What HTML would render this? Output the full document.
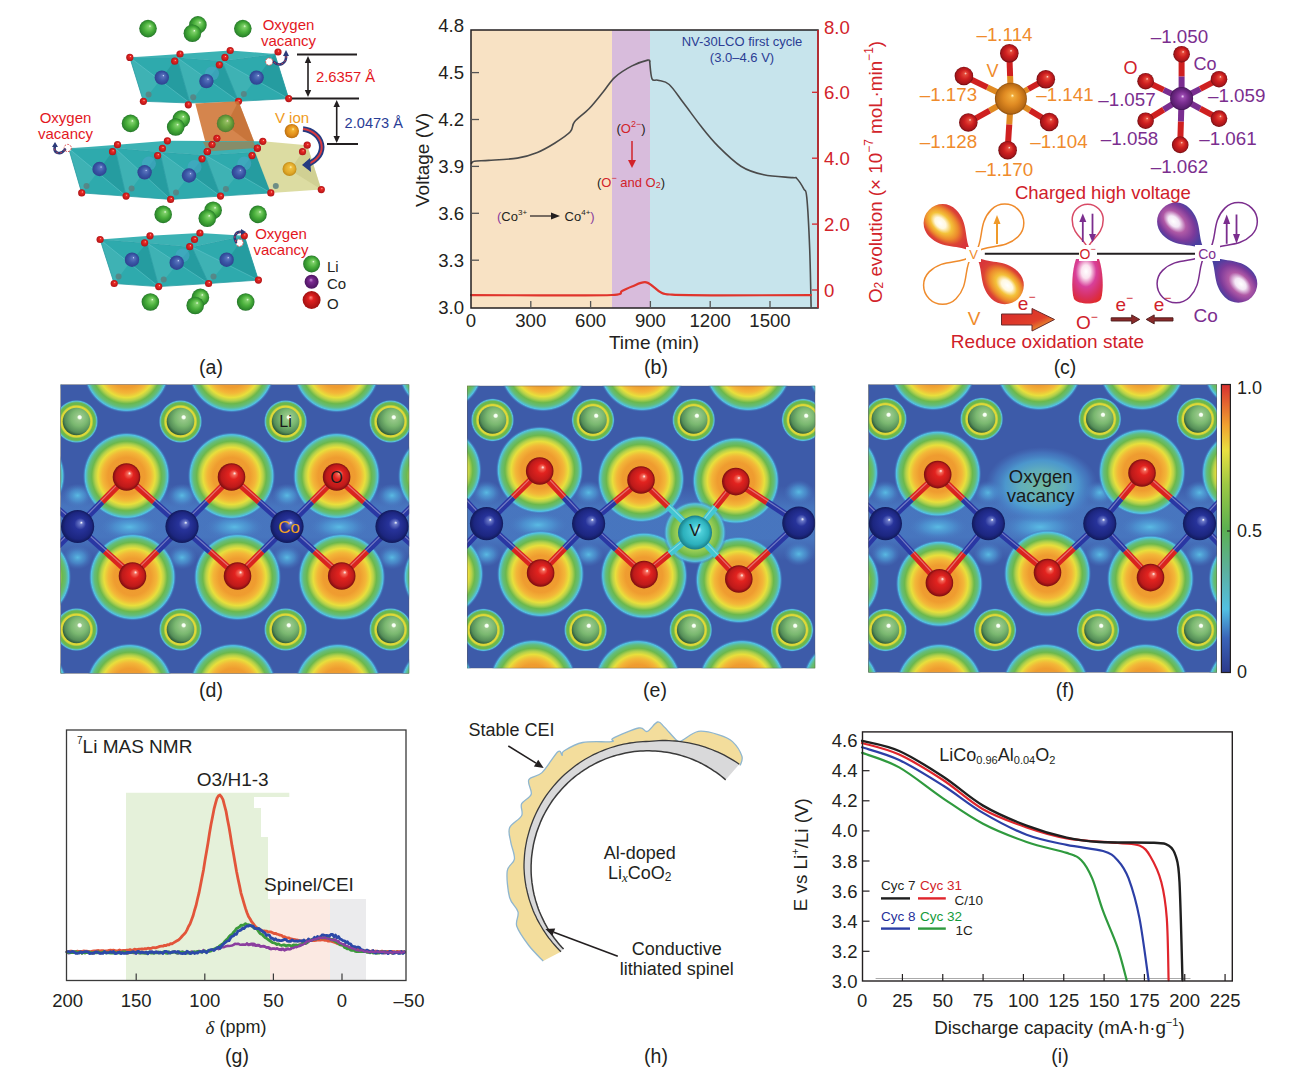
<!DOCTYPE html>
<html><head><meta charset="utf-8"><style>
html,body{margin:0;padding:0;background:#fff;}
svg{display:block;font-family:"Liberation Sans", sans-serif;}
</style></head><body>
<svg width="1291" height="1083" viewBox="0 0 1291 1083">
<defs>
<radialGradient id="hO" cx="0.5" cy="0.5" r="0.5">
<stop offset="0" stop-color="#ee9a2e"/><stop offset="0.42" stop-color="#ef9c30"/>
<stop offset="0.55" stop-color="#f3b638"/><stop offset="0.65" stop-color="#e8df3c"/>
<stop offset="0.72" stop-color="#b5d14a"/><stop offset="0.79" stop-color="#6cb84c"/>
<stop offset="0.87" stop-color="#62bd7c"/><stop offset="0.94" stop-color="#52c3e6"/>
<stop offset="1" stop-color="#3d5ba9" stop-opacity="0"/></radialGradient>
<radialGradient id="hLi" cx="0.5" cy="0.5" r="0.5">
<stop offset="0" stop-color="#6cb84c"/><stop offset="0.6" stop-color="#d8d838"/>
<stop offset="0.7" stop-color="#e0d838"/><stop offset="0.77" stop-color="#6cb84c"/><stop offset="0.85" stop-color="#6cb84c"/>
<stop offset="0.93" stop-color="#56c2e0"/><stop offset="1" stop-color="#3d5ba9" stop-opacity="0"/></radialGradient>
<radialGradient id="hV" cx="0.5" cy="0.5" r="0.5">
<stop offset="0" stop-color="#9ccf56"/><stop offset="0.55" stop-color="#9ccf56"/>
<stop offset="0.75" stop-color="#6cb84c"/><stop offset="0.9" stop-color="#56c2e0"/>
<stop offset="1" stop-color="#3d5ba9" stop-opacity="0"/></radialGradient>
<radialGradient id="hM" cx="0.5" cy="0.5" r="0.5">
<stop offset="0" stop-color="#5cc3e8" stop-opacity="0.9"/><stop offset="0.5" stop-color="#4f9fd8" stop-opacity="0.6"/>
<stop offset="1" stop-color="#4a78c0" stop-opacity="0"/></radialGradient>
<linearGradient id="hBand" x1="0" y1="0" x2="0" y2="1">
<stop offset="0" stop-color="#4a78c0" stop-opacity="0"/><stop offset="0.3" stop-color="#4a7cc4" stop-opacity="0.8"/>
<stop offset="0.7" stop-color="#4a7cc4" stop-opacity="0.8"/><stop offset="1" stop-color="#4a78c0" stop-opacity="0"/></linearGradient>
<radialGradient id="hVac" cx="0.5" cy="0.5" r="0.5">
<stop offset="0" stop-color="#78c4a0" stop-opacity="0.9"/><stop offset="0.4" stop-color="#66bcc0" stop-opacity="0.85"/><stop offset="0.65" stop-color="#52b0dc" stop-opacity="0.7"/>
<stop offset="0.85" stop-color="#4a88cc" stop-opacity="0.5"/><stop offset="1" stop-color="#4a78c0" stop-opacity="0"/></radialGradient>
<radialGradient id="sO" cx="0.5" cy="0.5" r="0.5" fx="0.62" fy="0.36">
<stop offset="0" stop-color="#ffffff"/><stop offset="0.12" stop-color="#f46a5a"/><stop offset="0.35" stop-color="#e2231f"/>
<stop offset="0.8" stop-color="#bd1a1a"/><stop offset="1" stop-color="#7a0e10"/></radialGradient>
<radialGradient id="sCo" cx="0.5" cy="0.5" r="0.5" fx="0.62" fy="0.38">
<stop offset="0" stop-color="#ffffff"/><stop offset="0.1" stop-color="#6a78c8"/><stop offset="0.35" stop-color="#27339a"/>
<stop offset="0.8" stop-color="#1c2680"/><stop offset="1" stop-color="#111a5a"/></radialGradient>
<radialGradient id="sLi" cx="0.58" cy="0.4" r="0.6" fx="0.62" fy="0.34">
<stop offset="0" stop-color="#ffffff"/><stop offset="0.09" stop-color="#f4fff0"/><stop offset="0.16" stop-color="#98c88a"/><stop offset="0.5" stop-color="#7ab870"/>
<stop offset="0.85" stop-color="#558e58"/><stop offset="1" stop-color="#33603e"/></radialGradient>
<radialGradient id="sV" cx="0.5" cy="0.5" r="0.5" fx="0.6" fy="0.4">
<stop offset="0" stop-color="#d8fbff"/><stop offset="0.25" stop-color="#4ed0da"/><stop offset="0.75" stop-color="#2cb0bc"/>
<stop offset="1" stop-color="#1a7e88"/></radialGradient>
<clipPath id="cpd"><rect x="60.5" y="384.5" width="348.7" height="289.0"/></clipPath><clipPath id="cpe"><rect x="467" y="385.8" width="348.20000000000005" height="282.49999999999994"/></clipPath><clipPath id="cpf"><rect x="868.3" y="384.5" width="348.70000000000005" height="288.0"/></clipPath><linearGradient id="cbar" x1="0" y1="1" x2="0" y2="0"><stop offset="0" stop-color="#2c3a8c"/><stop offset="0.12" stop-color="#3a64b8"/><stop offset="0.22" stop-color="#52c0e2"/><stop offset="0.35" stop-color="#5cb0a0"/><stop offset="0.5" stop-color="#5cb050"/><stop offset="0.65" stop-color="#9cc844"/><stop offset="0.77" stop-color="#e8e040"/><stop offset="0.86" stop-color="#f0a030"/><stop offset="1" stop-color="#d83030"/></linearGradient>
<radialGradient id="sOc" cx="0.5" cy="0.5" r="0.5" fx="0.6" fy="0.35">
<stop offset="0" stop-color="#ffe0d8"/><stop offset="0.15" stop-color="#e44a3a"/><stop offset="0.5" stop-color="#cf2020"/>
<stop offset="0.85" stop-color="#a8161a"/><stop offset="1" stop-color="#6e0c10"/></radialGradient>
<radialGradient id="sVc" cx="0.5" cy="0.5" r="0.5" fx="0.55" fy="0.4">
<stop offset="0" stop-color="#fff6c0"/><stop offset="0.12" stop-color="#f0a838"/><stop offset="0.5" stop-color="#df8a22"/>
<stop offset="0.9" stop-color="#b86a14"/><stop offset="1" stop-color="#8a4e10"/></radialGradient>
<radialGradient id="sCoc" cx="0.5" cy="0.5" r="0.5" fx="0.55" fy="0.4">
<stop offset="0" stop-color="#f6e0ff"/><stop offset="0.15" stop-color="#9a4ab0"/><stop offset="0.5" stop-color="#7a2e90"/>
<stop offset="0.9" stop-color="#5a1e70"/><stop offset="1" stop-color="#3e1250"/></radialGradient>

<radialGradient id="lV" cx="0.68" cy="0.5" r="0.5" fx="0.72" fy="0.45">
<stop offset="0" stop-color="#ffffff"/><stop offset="0.22" stop-color="#fff8e0"/><stop offset="0.42" stop-color="#f4c23a"/>
<stop offset="0.65" stop-color="#ec8a2c"/><stop offset="0.85" stop-color="#dc4434"/><stop offset="1" stop-color="#d8363a"/></radialGradient>
<radialGradient id="lCo" cx="0.68" cy="0.5" r="0.5" fx="0.72" fy="0.45">
<stop offset="0" stop-color="#ffffff"/><stop offset="0.22" stop-color="#f4e8f6"/><stop offset="0.45" stop-color="#b05aa6"/>
<stop offset="0.75" stop-color="#7c3a9a"/><stop offset="1" stop-color="#4a3fa0"/></radialGradient>
<radialGradient id="lO" cx="0.45" cy="0.3" r="0.75" fx="0.45" fy="0.28">
<stop offset="0" stop-color="#ffffff"/><stop offset="0.2" stop-color="#fbe4f0"/><stop offset="0.45" stop-color="#d8409a"/>
<stop offset="0.75" stop-color="#d83060"/><stop offset="1" stop-color="#e02a2a"/></radialGradient>
<linearGradient id="bigarr" x1="0" y1="0" x2="1" y2="1"><stop offset="0" stop-color="#d8262a"/><stop offset="0.6" stop-color="#e0402a"/><stop offset="0.85" stop-color="#e8a030"/><stop offset="1" stop-color="#5a3aa0"/></linearGradient>
<radialGradient id="aLi" cx="0.5" cy="0.5" r="0.5" fx="0.62" fy="0.35">
<stop offset="0" stop-color="#e8ffe0"/><stop offset="0.15" stop-color="#7fd06a"/><stop offset="0.55" stop-color="#4ab03c"/>
<stop offset="0.9" stop-color="#2e8a2c"/><stop offset="1" stop-color="#22702a"/></radialGradient>
<radialGradient id="aCo" cx="0.5" cy="0.5" r="0.5" fx="0.62" fy="0.35">
<stop offset="0" stop-color="#c8d8ff"/><stop offset="0.15" stop-color="#5a74bc"/><stop offset="0.55" stop-color="#3c58a8"/>
<stop offset="1" stop-color="#2e4290"/></radialGradient>
<radialGradient id="aO" cx="0.5" cy="0.5" r="0.5" fx="0.6" fy="0.35">
<stop offset="0" stop-color="#ffc8c0"/><stop offset="0.25" stop-color="#ec2a24"/><stop offset="1" stop-color="#b01418"/></radialGradient>
<radialGradient id="aV" cx="0.5" cy="0.5" r="0.5" fx="0.6" fy="0.35">
<stop offset="0" stop-color="#fff0b0"/><stop offset="0.2" stop-color="#f2b030"/><stop offset="0.7" stop-color="#e08c1a"/>
<stop offset="1" stop-color="#b86e10"/></radialGradient>
<radialGradient id="aV2" cx="0.5" cy="0.5" r="0.5" fx="0.6" fy="0.35">
<stop offset="0" stop-color="#fff8c0"/><stop offset="0.2" stop-color="#f0c040"/><stop offset="0.7" stop-color="#e0a828"/>
<stop offset="1" stop-color="#c08a18"/></radialGradient>
<radialGradient id="aLeg" cx="0.5" cy="0.5" r="0.5" fx="0.45" fy="0.35">
<stop offset="0" stop-color="#ff8a80"/><stop offset="0.3" stop-color="#e02020"/><stop offset="1" stop-color="#a01010"/></radialGradient>
<radialGradient id="aLegCo" cx="0.5" cy="0.5" r="0.5" fx="0.45" fy="0.35">
<stop offset="0" stop-color="#c890d8"/><stop offset="0.3" stop-color="#7a2a90"/><stop offset="1" stop-color="#4a1460"/></radialGradient>
</defs>
<rect width="1291" height="1083" fill="#fff"/>
<text x="211" y="367" font-size="19.5" fill="#231f20" text-anchor="middle" dominant-baseline="central" >(a)</text>
<text x="656" y="367" font-size="19.5" fill="#231f20" text-anchor="middle" dominant-baseline="central" >(b)</text>
<text x="1065" y="367" font-size="19.5" fill="#231f20" text-anchor="middle" dominant-baseline="central" >(c)</text>
<text x="211" y="690" font-size="19.5" fill="#231f20" text-anchor="middle" dominant-baseline="central" >(d)</text>
<text x="655" y="690" font-size="19.5" fill="#231f20" text-anchor="middle" dominant-baseline="central" >(e)</text>
<text x="1065" y="690" font-size="19.5" fill="#231f20" text-anchor="middle" dominant-baseline="central" >(f)</text>
<text x="237" y="1056" font-size="19.5" fill="#231f20" text-anchor="middle" dominant-baseline="central" >(g)</text>
<text x="656" y="1056" font-size="19.5" fill="#231f20" text-anchor="middle" dominant-baseline="central" >(h)</text>
<text x="1060" y="1056" font-size="19.5" fill="#231f20" text-anchor="middle" dominant-baseline="central" >(i)</text>
<rect x="471" y="30" width="141" height="278" fill="#f8e2c4" stroke="none" stroke-width="1" />
<rect x="612" y="30" width="38" height="278" fill="#d8bcdc" stroke="none" stroke-width="1" />
<rect x="650" y="30" width="168" height="278" fill="#c7e4ec" stroke="none" stroke-width="1" />
<path d="M471.5,163.3 C472.0,163.0 471.4,161.8 474.3,161.3 C477.2,160.8 481.5,160.9 488.7,160.4 C495.9,159.9 509.2,159.4 517.3,158.1 C525.4,156.8 531.2,154.9 537.4,152.4 C543.6,149.9 549.1,146.6 554.6,143.2 C560.1,139.8 567.0,135.4 570.3,131.8 C573.6,128.2 571.5,125.5 574.6,121.7 C577.7,117.9 584.2,113.8 589.0,108.8 C593.8,103.8 599.0,97.0 603.3,91.7 C607.6,86.5 610.0,81.6 614.8,77.3 C619.6,73.0 626.5,68.8 632.0,65.9 C637.5,63.0 644.8,60.8 647.7,60.1 C650.7,59.4 649.4,61.4 649.7,61.6" fill="none" stroke="#4a4a4a" stroke-width="1.6" stroke-linejoin="round" stroke-linecap="round" />
<path d="M649.7,61.6 C650.1,64.5 650.6,75.7 652.0,78.8 C653.4,81.9 654.9,79.2 657.8,80.2 C660.7,81.2 664.9,80.7 669.2,84.5 C673.5,88.3 678.3,96.2 683.6,103.1 C688.9,110.0 695.1,118.8 700.8,126.0 C706.5,133.2 711.3,139.4 718.0,146.1 C724.7,152.8 733.3,161.4 740.9,166.2 C748.5,171.0 755.2,172.9 763.8,174.8 C772.4,176.7 787.0,177.0 792.5,177.6 C798.0,178.2 794.9,176.6 796.8,178.5 C798.7,180.4 802.2,185.9 803.9,189.1 C805.6,192.3 805.8,187.7 806.8,197.7 C807.8,207.7 809.0,231.2 809.7,249.3 C810.4,267.5 810.9,297.1 811.1,306.6" fill="none" stroke="#4a4a4a" stroke-width="1.6" stroke-linejoin="round" stroke-linecap="round" />
<path d="M471.0,295.1 C482.5,295.1 516.5,295.3 540.0,295.3 C563.5,295.3 598.3,295.7 612.0,295.0 C625.7,294.3 618.7,292.4 622.0,291.0 C625.3,289.6 628.0,287.9 632.0,286.5 C636.0,285.1 641.5,281.3 646.3,282.3 C651.1,283.3 656.3,290.2 660.6,292.3 C664.9,294.4 662.1,294.1 672.0,294.6 C681.9,295.1 696.8,295.2 720.0,295.3 C743.2,295.4 795.8,295.1 811.0,295.1" fill="none" stroke="#e0342c" stroke-width="2.2" stroke-linejoin="round" stroke-linecap="round" />
<rect x="471" y="30" width="347" height="278" fill="none" stroke="#231f20" stroke-width="1.5" />
<text x="464" y="307.1" font-size="18.6" fill="#231f20" text-anchor="end" dominant-baseline="central" >3.0</text>
<line x1="471" y1="260.20000000000005" x2="479" y2="260.20000000000005" stroke="#555" stroke-width="1.3" />
<text x="464" y="260.20000000000005" font-size="18.6" fill="#231f20" text-anchor="end" dominant-baseline="central" >3.3</text>
<line x1="471" y1="213.3" x2="479" y2="213.3" stroke="#555" stroke-width="1.3" />
<text x="464" y="213.3" font-size="18.6" fill="#231f20" text-anchor="end" dominant-baseline="central" >3.6</text>
<line x1="471" y1="166.40000000000003" x2="479" y2="166.40000000000003" stroke="#555" stroke-width="1.3" />
<text x="464" y="166.40000000000003" font-size="18.6" fill="#231f20" text-anchor="end" dominant-baseline="central" >3.9</text>
<line x1="471" y1="119.5" x2="479" y2="119.5" stroke="#555" stroke-width="1.3" />
<text x="464" y="119.5" font-size="18.6" fill="#231f20" text-anchor="end" dominant-baseline="central" >4.2</text>
<line x1="471" y1="72.60000000000002" x2="479" y2="72.60000000000002" stroke="#555" stroke-width="1.3" />
<text x="464" y="72.60000000000002" font-size="18.6" fill="#231f20" text-anchor="end" dominant-baseline="central" >4.5</text>
<text x="464" y="25.700000000000045" font-size="18.6" fill="#231f20" text-anchor="end" dominant-baseline="central" >4.8</text>
<text x="471.0" y="320.5" font-size="18.6" fill="#231f20" text-anchor="middle" dominant-baseline="central" >0</text>
<line x1="530.8" y1="308" x2="530.8" y2="301" stroke="#555" stroke-width="1.3" />
<text x="530.8" y="320.5" font-size="18.6" fill="#231f20" text-anchor="middle" dominant-baseline="central" >300</text>
<line x1="590.6" y1="308" x2="590.6" y2="301" stroke="#555" stroke-width="1.3" />
<text x="590.6" y="320.5" font-size="18.6" fill="#231f20" text-anchor="middle" dominant-baseline="central" >600</text>
<line x1="650.4" y1="308" x2="650.4" y2="301" stroke="#555" stroke-width="1.3" />
<text x="650.4" y="320.5" font-size="18.6" fill="#231f20" text-anchor="middle" dominant-baseline="central" >900</text>
<line x1="710.2" y1="308" x2="710.2" y2="301" stroke="#555" stroke-width="1.3" />
<text x="710.2" y="320.5" font-size="18.6" fill="#231f20" text-anchor="middle" dominant-baseline="central" >1200</text>
<line x1="770.0" y1="308" x2="770.0" y2="301" stroke="#555" stroke-width="1.3" />
<text x="770.0" y="320.5" font-size="18.6" fill="#231f20" text-anchor="middle" dominant-baseline="central" >1500</text>
<line x1="818" y1="30" x2="818" y2="308" stroke="#d2232a" stroke-width="1.5" />
<line x1="812" y1="290.0" x2="818" y2="290.0" stroke="#d2232a" stroke-width="1.3" />
<text x="824" y="290.0" font-size="18.6" fill="#d2232a" text-anchor="start" dominant-baseline="central" >0</text>
<line x1="812" y1="224.1" x2="818" y2="224.1" stroke="#d2232a" stroke-width="1.3" />
<text x="824" y="224.1" font-size="18.6" fill="#d2232a" text-anchor="start" dominant-baseline="central" >2.0</text>
<line x1="812" y1="158.2" x2="818" y2="158.2" stroke="#d2232a" stroke-width="1.3" />
<text x="824" y="158.2" font-size="18.6" fill="#d2232a" text-anchor="start" dominant-baseline="central" >4.0</text>
<line x1="812" y1="92.29999999999998" x2="818" y2="92.29999999999998" stroke="#d2232a" stroke-width="1.3" />
<text x="824" y="92.29999999999998" font-size="18.6" fill="#d2232a" text-anchor="start" dominant-baseline="central" >6.0</text>
<text x="824" y="27" font-size="18.6" fill="#d2232a" text-anchor="start" dominant-baseline="central" >8.0</text>
<text x="422.2" y="160" font-size="19" fill="#231f20" text-anchor="middle" dominant-baseline="central" transform="rotate(-90 422.2 160)">Voltage (V)</text>
<text x="654" y="342.5" font-size="19" fill="#231f20" text-anchor="middle" dominant-baseline="central" >Time (min)</text>
<text x="876" y="171" font-size="18.8" fill="#d2232a" text-anchor="middle" dominant-baseline="central" transform="rotate(-90 876 172)">O<tspan font-size="12" dy="4">2</tspan><tspan dy="-4"> evolution (× 10</tspan><tspan font-size="12" dy="-6">−7</tspan><tspan dy="6"> moL·min</tspan><tspan font-size="12" dy="-6">−1</tspan><tspan dy="6">)</tspan></text>
<text x="742" y="41" font-size="13" fill="#2b3d94" text-anchor="middle" dominant-baseline="central" >NV-30LCO first cycle</text>
<text x="742" y="57" font-size="13" fill="#2b3d94" text-anchor="middle" dominant-baseline="central" >(3.0–4.6 V)</text>
<text x="631" y="128" font-size="13" fill="#d2232a" text-anchor="middle" dominant-baseline="central"><tspan fill="#231f20">(</tspan>O<tspan font-size="9" dy="-4">2−</tspan><tspan dy="4" fill="#231f20">)</tspan></text>
<line x1="632" y1="141" x2="632" y2="162" stroke="#d2232a" stroke-width="1.5" />
<polygon points="628.0,160.0 636.0,160.0 632.0,168.0" fill="#d2232a" stroke="none" stroke-width="1" />
<text x="631" y="182" font-size="13" fill="#d2232a" text-anchor="middle" dominant-baseline="central"><tspan fill="#231f20">(</tspan>O<tspan font-size="9" dy="-4">−</tspan><tspan dy="4"> and O</tspan><tspan font-size="9" dy="3">2</tspan><tspan dy="-3" fill="#231f20">)</tspan></text>
<text x="497" y="216" font-size="13" fill="#231f20" text-anchor="start" dominant-baseline="central"><tspan fill="#8a3d9e">(</tspan>Co<tspan font-size="8" dy="-4">3+</tspan></text>
<line x1="530" y1="216" x2="553" y2="216" stroke="#231f20" stroke-width="1.2" />
<polygon points="551.0,212.5 560.0,216.0 551.0,219.5" fill="#231f20" stroke="none" stroke-width="1" />
<text x="594.7" y="216" font-size="13" fill="#231f20" text-anchor="end" dominant-baseline="central">Co<tspan font-size="8" dy="-4">4+</tspan><tspan fill="#8a3d9e" dy="4">)</tspan></text>
<polygon points="126.0,980.5 126.0,792.7 289.3,792.7 289.3,797.0 254.0,797.0 254.0,808.0 261.0,808.0 261.0,837.0 268.0,837.0 268.0,899.0 270.0,899.0 270.0,980.5" fill="#e5f1da" stroke="none" stroke-width="1" />
<rect x="270" y="899" width="60" height="81.5" fill="#fbe9e2" stroke="none" stroke-width="1" />
<rect x="330" y="899" width="36" height="81.5" fill="#ebebed" stroke="none" stroke-width="1" />
<polyline points="67.0,951.8 68.5,953.2 70.0,953.0 71.5,952.0 73.0,952.5 74.5,952.4 76.0,952.8 77.5,953.1 79.0,951.7 80.5,951.6 82.0,953.2 83.5,952.4 85.0,953.0 86.5,951.5 88.0,952.4 89.5,952.9 91.0,952.0 92.5,953.4 94.0,953.3 95.5,951.6 97.0,951.6 98.5,952.6 100.0,953.4 101.5,952.3 103.0,951.9 104.5,952.3 106.0,951.6 107.5,951.9 109.0,952.4 110.5,952.5 112.0,952.0 113.5,952.0 115.0,951.9 116.5,952.4 118.0,952.1 119.5,951.5 121.0,953.2 122.5,952.6 124.0,952.8 125.5,951.9 127.0,953.5 128.5,953.2 130.0,951.7 131.5,952.2 133.0,952.9 134.5,952.9 136.0,953.4 137.5,952.3 139.0,953.2 140.5,952.8 142.0,952.1 143.5,952.7 145.0,953.3 146.5,953.2 148.0,952.5 149.5,952.7 151.0,951.6 152.5,952.0 154.0,953.1 155.5,952.3 157.0,951.8 158.5,952.6 160.0,952.9 161.5,952.8 163.0,952.2 164.5,952.4 166.0,952.5 167.5,953.0 169.0,952.5 170.5,952.3 172.0,952.5 173.5,951.5 175.0,951.5 176.5,952.9 178.0,953.4 179.5,952.6 181.0,952.2 182.5,951.7 184.0,952.3 185.5,953.3 187.0,952.8 188.5,952.3 190.0,952.9 191.5,951.6 193.0,952.1 194.5,952.8 196.0,952.0 197.5,951.6 199.0,951.1 200.5,951.6 202.0,952.2 203.5,950.1 205.0,951.5 206.5,951.4 208.0,951.3 209.5,950.7 211.0,950.6 212.5,949.7 214.0,949.5 215.5,948.9 217.0,947.8 218.5,949.1 220.0,948.2 221.5,947.1 223.0,947.3 224.5,946.9 226.0,946.3 227.5,945.9 229.0,946.0 230.5,945.8 232.0,945.5 233.5,944.9 235.0,943.8 236.5,944.0 238.0,943.7 239.5,944.4 241.0,944.8 242.5,944.6 244.0,944.6 245.5,944.7 247.0,943.6 248.5,944.9 250.0,944.7 251.5,943.7 253.0,943.8 254.5,944.0 256.0,945.7 257.5,945.0 259.0,945.1 260.5,946.4 262.0,946.2 263.5,946.0 265.0,946.5 266.5,947.6 268.0,947.2 269.5,947.7 271.0,948.9 272.5,948.6 274.0,948.6 275.5,949.1 277.0,948.4 278.5,949.2 280.0,949.4 281.5,948.9 283.0,948.7 284.5,950.3 286.0,949.3 287.5,948.6 289.0,949.1 290.5,949.2 292.0,947.3 293.5,946.8 295.0,946.6 296.5,947.2 298.0,945.5 299.5,946.0 301.0,945.3 302.5,944.3 304.0,943.0 305.5,943.8 307.0,942.7 308.5,941.5 310.0,940.2 311.5,940.4 313.0,939.3 314.5,939.1 316.0,938.2 317.5,938.4 319.0,937.0 320.5,937.2 322.0,938.4 323.5,938.2 325.0,937.2 326.5,938.5 328.0,937.7 329.5,939.3 331.0,939.3 332.5,939.2 334.0,939.5 335.5,939.6 337.0,942.0 338.5,941.1 340.0,943.4 341.5,944.4 343.0,944.3 344.5,944.3 346.0,946.4 347.5,947.3 349.0,947.4 350.5,947.6 352.0,947.9 353.5,948.4 355.0,948.6 356.5,950.0 358.0,949.9 359.5,949.8 361.0,949.9 362.5,951.3 364.0,950.8 365.5,951.5 367.0,951.3 368.5,952.5 370.0,952.7 371.5,951.1 373.0,951.5 374.5,951.9 376.0,953.2 377.5,952.9 379.0,952.0 380.5,951.8 382.0,952.8 383.5,953.1 385.0,953.3 386.5,952.1 388.0,953.2 389.5,952.9 391.0,952.5 392.5,953.5 394.0,952.0 395.5,952.9 397.0,951.7 398.5,951.8 400.0,953.3 401.5,951.9 403.0,953.0 404.5,952.7" fill="none" stroke="#8b3f9f" stroke-width="2.6" stroke-linejoin="round" stroke-linecap="round" />
<polyline points="67.0,952.0 68.5,952.0 70.0,951.1 71.5,951.1 73.0,951.8 74.5,951.7 76.0,951.6 77.5,951.2 79.0,951.5 80.5,951.5 82.0,951.4 83.5,951.0 85.0,951.2 86.5,951.1 88.0,951.4 89.5,951.7 91.0,951.6 92.5,951.2 94.0,951.0 95.5,950.8 97.0,950.6 98.5,950.5 100.0,950.9 101.5,950.7 103.0,950.7 104.5,951.2 106.0,950.8 107.5,950.8 109.0,950.4 110.5,950.2 112.0,950.4 113.5,950.2 115.0,950.5 116.5,950.9 118.0,950.5 119.5,950.0 121.0,950.6 122.5,950.5 124.0,950.3 125.5,950.4 127.0,950.2 128.5,950.2 130.0,949.6 131.5,950.2 133.0,950.1 134.5,949.2 136.0,949.6 137.5,949.5 139.0,949.1 140.5,949.1 142.0,948.9 143.5,949.2 145.0,948.6 146.5,948.8 148.0,948.2 149.5,948.5 151.0,948.4 152.5,947.7 154.0,947.6 155.5,947.8 157.0,947.3 158.5,946.9 160.0,946.3 161.5,946.1 163.0,946.2 164.5,945.3 166.0,945.7 167.5,944.6 169.0,944.8 170.5,943.7 172.0,943.8 173.5,942.9 175.0,941.9 176.5,941.1 178.0,940.3 179.5,939.1 181.0,937.5 182.5,935.8 184.0,934.3 185.5,932.6 187.0,929.9 188.5,926.5 190.0,924.0 191.5,920.1 193.0,916.1 194.5,910.5 196.0,905.7 197.5,899.0 199.0,892.9 200.5,885.3 202.0,877.5 203.5,869.9 205.0,860.4 206.5,851.8 208.0,843.0 209.5,833.3 211.0,824.5 212.5,816.9 214.0,809.2 215.5,803.4 217.0,798.2 218.5,795.8 220.0,795.0 221.5,796.9 223.0,799.6 224.5,805.5 226.0,811.1 227.5,819.4 229.0,827.0 230.5,836.0 232.0,845.6 233.5,853.8 235.0,862.5 236.5,871.2 238.0,878.7 239.5,885.6 241.0,893.1 242.5,898.2 244.0,903.4 245.5,908.4 247.0,912.8 248.5,916.4 250.0,918.8 251.5,921.5 253.0,923.3 254.5,925.4 256.0,927.1 257.5,928.2 259.0,929.2 260.5,929.8 262.0,930.5 263.5,930.8 265.0,931.0 266.5,931.1 268.0,931.9 269.5,931.9 271.0,932.0 272.5,932.8 274.0,933.6 275.5,933.3 277.0,934.2 278.5,934.5 280.0,935.2 281.5,935.3 283.0,936.7 284.5,936.6 286.0,937.5 287.5,937.8 289.0,937.9 290.5,938.9 292.0,939.0 293.5,939.3 295.0,939.6 296.5,940.0 298.0,940.2 299.5,940.9 301.0,940.9 302.5,941.4 304.0,941.4 305.5,941.4 307.0,940.6 308.5,940.7 310.0,940.4 311.5,940.6 313.0,940.5 314.5,940.5 316.0,940.4 317.5,939.8 319.0,940.0 320.5,940.1 322.0,939.6 323.5,939.8 325.0,940.3 326.5,940.2 328.0,941.1 329.5,940.9 331.0,941.1 332.5,941.6 334.0,942.1 335.5,942.6 337.0,943.4 338.5,943.9 340.0,944.2 341.5,945.1 343.0,945.2 344.5,946.4 346.0,947.0 347.5,947.2 349.0,947.4 350.5,947.9 352.0,948.4 353.5,948.3 355.0,949.0 356.5,949.4 358.0,949.4 359.5,949.6 361.0,950.5 362.5,950.3 364.0,950.6 365.5,951.2 367.0,951.0 368.5,950.8 370.0,951.6 371.5,951.1 373.0,950.8 374.5,951.6 376.0,951.0 377.5,951.3 379.0,951.9 380.5,951.7 382.0,951.1 383.5,951.6 385.0,951.6 386.5,951.7 388.0,951.4 389.5,951.8 391.0,951.3 392.5,951.5 394.0,951.6 395.5,952.2 397.0,951.4 398.5,952.0 400.0,951.5 401.5,951.9 403.0,951.7 404.5,951.8" fill="none" stroke="#e2553a" stroke-width="2.8" stroke-linejoin="round" stroke-linecap="round" />
<polyline points="67.0,952.1 68.5,952.6 70.0,952.3 71.5,952.7 73.0,952.7 74.5,951.8 76.0,951.7 77.5,953.0 79.0,952.1 80.5,952.1 82.0,953.3 83.5,952.5 85.0,953.0 86.5,952.5 88.0,952.7 89.5,951.9 91.0,952.7 92.5,953.1 94.0,952.5 95.5,952.9 97.0,952.8 98.5,951.8 100.0,952.9 101.5,952.6 103.0,952.2 104.5,951.7 106.0,953.1 107.5,952.5 109.0,952.9 110.5,953.1 112.0,952.8 113.5,953.2 115.0,952.3 116.5,953.0 118.0,952.4 119.5,953.2 121.0,953.1 122.5,951.9 124.0,951.9 125.5,952.0 127.0,953.2 128.5,952.4 130.0,952.7 131.5,952.2 133.0,952.5 134.5,952.3 136.0,952.3 137.5,952.6 139.0,952.6 140.5,953.1 142.0,952.8 143.5,953.2 145.0,953.1 146.5,953.3 148.0,952.8 149.5,952.0 151.0,953.1 152.5,953.2 154.0,953.1 155.5,952.6 157.0,952.8 158.5,952.0 160.0,953.0 161.5,952.6 163.0,952.2 164.5,951.8 166.0,953.1 167.5,953.3 169.0,951.8 170.5,953.0 172.0,952.4 173.5,951.9 175.0,952.2 176.5,952.9 178.0,953.1 179.5,951.8 181.0,952.7 182.5,951.8 184.0,952.8 185.5,952.2 187.0,953.1 188.5,953.2 190.0,952.5 191.5,953.2 193.0,952.1 194.5,951.7 196.0,952.5 197.5,951.5 199.0,951.7 200.5,952.0 202.0,952.2 203.5,951.3 205.0,950.9 206.5,952.0 208.0,950.8 209.5,951.4 211.0,950.9 212.5,949.5 214.0,949.1 215.5,948.4 217.0,947.8 218.5,946.8 220.0,945.7 221.5,944.6 223.0,943.8 224.5,941.7 226.0,940.1 227.5,939.0 229.0,936.7 230.5,935.1 232.0,934.6 233.5,932.3 235.0,930.8 236.5,928.5 238.0,927.8 239.5,926.9 241.0,925.1 242.5,925.3 244.0,924.9 245.5,923.7 247.0,924.6 248.5,924.6 250.0,925.5 251.5,925.7 253.0,927.1 254.5,928.3 256.0,928.3 257.5,929.7 259.0,932.1 260.5,934.0 262.0,934.3 263.5,936.0 265.0,937.5 266.5,938.3 268.0,939.5 269.5,940.5 271.0,941.5 272.5,942.6 274.0,942.8 275.5,943.5 277.0,944.6 278.5,943.8 280.0,945.0 281.5,945.5 283.0,945.0 284.5,945.0 286.0,946.1 287.5,945.3 289.0,945.2 290.5,945.6 292.0,946.0 293.5,944.9 295.0,945.2 296.5,945.0 298.0,945.5 299.5,944.6 301.0,944.9 302.5,943.3 304.0,943.1 305.5,943.0 307.0,942.8 308.5,941.4 310.0,940.4 311.5,939.6 313.0,939.6 314.5,938.5 316.0,939.0 317.5,938.6 319.0,937.2 320.5,937.1 322.0,937.9 323.5,937.6 325.0,938.0 326.5,937.6 328.0,937.6 329.5,938.4 331.0,939.8 332.5,939.7 334.0,940.6 335.5,941.5 337.0,942.4 338.5,943.2 340.0,944.9 341.5,944.6 343.0,945.1 344.5,947.4 346.0,948.1 347.5,948.9 349.0,948.7 350.5,950.1 352.0,950.5 353.5,949.9 355.0,951.1 356.5,951.6 358.0,951.6 359.5,951.6 361.0,951.4 362.5,951.6 364.0,951.6 365.5,951.4 367.0,952.4 368.5,952.0 370.0,952.8 371.5,951.7 373.0,953.1 374.5,952.7 376.0,953.1 377.5,953.1 379.0,953.1 380.5,952.6 382.0,951.7 383.5,952.9 385.0,952.0 386.5,952.2 388.0,952.8 389.5,952.5 391.0,952.4 392.5,953.2 394.0,952.7 395.5,952.2 397.0,952.1 398.5,953.1 400.0,952.5 401.5,953.0 403.0,952.3 404.5,952.0" fill="none" stroke="#3c9a3c" stroke-width="2.8" stroke-linejoin="round" stroke-linecap="round" />
<polyline points="67.0,951.9 68.5,951.5 70.0,952.3 71.5,951.7 73.0,951.5 74.5,952.3 76.0,953.5 77.5,953.2 79.0,953.1 80.5,951.8 82.0,952.6 83.5,952.0 85.0,951.7 86.5,951.6 88.0,951.8 89.5,953.5 91.0,953.3 92.5,953.2 94.0,953.2 95.5,951.8 97.0,952.0 98.5,952.8 100.0,953.1 101.5,953.4 103.0,953.4 104.5,951.5 106.0,952.8 107.5,952.9 109.0,952.5 110.5,951.7 112.0,952.4 113.5,951.5 115.0,953.5 116.5,953.4 118.0,952.6 119.5,952.0 121.0,953.5 122.5,952.7 124.0,953.4 125.5,953.3 127.0,952.5 128.5,952.3 130.0,952.7 131.5,952.3 133.0,951.7 134.5,952.0 136.0,953.3 137.5,951.4 139.0,951.4 140.5,952.8 142.0,952.0 143.5,952.6 145.0,952.4 146.5,952.1 148.0,953.7 149.5,951.8 151.0,952.3 152.5,951.8 154.0,952.8 155.5,952.0 157.0,952.2 158.5,953.1 160.0,952.1 161.5,952.6 163.0,953.5 164.5,951.5 166.0,951.4 167.5,951.8 169.0,953.1 170.5,952.8 172.0,951.9 173.5,952.1 175.0,951.7 176.5,952.4 178.0,951.4 179.5,953.0 181.0,953.4 182.5,953.6 184.0,953.1 185.5,953.6 187.0,951.3 188.5,952.0 190.0,953.6 191.5,953.1 193.0,952.2 194.5,953.5 196.0,952.7 197.5,953.1 199.0,951.8 200.5,951.5 202.0,952.0 203.5,951.1 205.0,951.5 206.5,952.8 208.0,951.0 209.5,950.0 211.0,949.7 212.5,949.6 214.0,950.6 215.5,949.1 217.0,948.2 218.5,947.1 220.0,948.4 221.5,946.1 223.0,944.6 224.5,943.1 226.0,941.9 227.5,940.9 229.0,940.7 230.5,938.0 232.0,936.3 233.5,936.0 235.0,933.9 236.5,934.3 238.0,930.9 239.5,930.6 241.0,930.0 242.5,928.2 244.0,928.7 245.5,926.9 247.0,925.9 248.5,926.0 250.0,925.1 251.5,926.1 253.0,926.1 254.5,928.1 256.0,928.7 257.5,928.7 259.0,928.5 260.5,930.0 262.0,931.0 263.5,932.0 265.0,933.1 266.5,935.6 268.0,934.8 269.5,935.4 271.0,938.3 272.5,938.1 274.0,939.7 275.5,938.8 277.0,940.4 278.5,940.1 280.0,940.6 281.5,940.7 283.0,940.2 284.5,939.3 286.0,939.6 287.5,941.2 289.0,941.3 290.5,941.4 292.0,940.0 293.5,940.8 295.0,941.2 296.5,940.9 298.0,941.3 299.5,940.7 301.0,941.0 302.5,941.0 304.0,939.9 305.5,941.4 307.0,941.3 308.5,938.9 310.0,940.7 311.5,940.4 313.0,939.2 314.5,937.3 316.0,938.9 317.5,936.5 319.0,938.1 320.5,936.9 322.0,935.0 323.5,934.9 325.0,935.8 326.5,935.4 328.0,935.7 329.5,936.1 331.0,934.5 332.5,934.3 334.0,936.8 335.5,935.1 337.0,937.7 338.5,936.5 340.0,938.9 341.5,939.6 343.0,940.7 344.5,940.8 346.0,942.5 347.5,941.8 349.0,943.8 350.5,943.9 352.0,946.1 353.5,946.6 355.0,946.7 356.5,947.5 358.0,947.0 359.5,947.6 361.0,949.5 362.5,949.8 364.0,951.1 365.5,950.9 367.0,950.1 368.5,950.9 370.0,952.1 371.5,951.7 373.0,950.6 374.5,952.8 376.0,952.9 377.5,951.2 379.0,952.3 380.5,952.0 382.0,953.0 383.5,951.9 385.0,951.8 386.5,952.4 388.0,953.6 389.5,951.5 391.0,951.5 392.5,952.8 394.0,953.4 395.5,952.5 397.0,952.3 398.5,953.4 400.0,953.2 401.5,951.5 403.0,953.4 404.5,951.8" fill="none" stroke="#2c49a8" stroke-width="2.8" stroke-linejoin="round" stroke-linecap="round" />
<polyline points="247.0,943.5 248.5,944.7 250.0,944.0 251.5,944.4 253.0,945.5 254.5,945.5 256.0,946.0 257.5,945.5 259.0,945.8 260.5,946.5 262.0,946.5 263.5,946.5 265.0,947.0 266.5,947.0 268.0,947.7 269.5,948.9 271.0,949.2 272.5,948.9 274.0,948.9 275.5,948.9 277.0,948.7 278.5,949.1 280.0,950.0 281.5,950.1 283.0,949.3 284.5,949.9 286.0,949.8 287.5,949.4 289.0,949.2 290.5,949.0 292.0,948.0 293.5,948.1 295.0,947.0 296.5,946.8 298.0,946.6 299.5,945.9 301.0,944.6 302.5,945.0 304.0,943.8 305.5,943.0 307.0,941.3 308.5,941.5 310.0,940.4 311.5,940.4 313.0,939.5 314.5,939.5 316.0,938.8 317.5,938.6 319.0,937.6 320.5,937.9 322.0,937.9 323.5,938.0 325.0,937.3 326.5,938.3 328.0,938.6 329.5,938.7 331.0,939.6 332.5,940.1 334.0,940.0 335.5,940.6 337.0,940.7 338.5,942.5 340.0,943.4 341.5,943.4 343.0,944.5 344.5,945.3 346.0,946.0 347.5,945.8 349.0,947.4 350.5,947.7 352.0,948.4 353.5,948.6 355.0,949.4 356.5,950.1 358.0,950.3 359.5,950.8 361.0,950.0 362.5,950.5 364.0,951.2 365.5,951.7 367.0,951.2 368.5,952.1 370.0,952.1 371.5,951.3 373.0,952.1 374.5,951.8 376.0,951.6 377.5,951.7 379.0,952.1 380.5,951.9 382.0,951.9 383.5,951.7 385.0,952.4 386.5,952.3 388.0,952.6 389.5,952.6 391.0,952.1 392.5,953.1 394.0,951.7 395.5,952.3 397.0,952.1 398.5,952.4 400.0,951.9 401.5,953.0 403.0,952.3 404.5,951.8" fill="none" stroke="#8b3f9f" stroke-width="2.2" stroke-linejoin="round" stroke-linecap="round" />
<rect x="66.5" y="730" width="339.5" height="250.5" fill="none" stroke="#3a3a3a" stroke-width="1.3" />
<text x="67.6" y="1000.6" font-size="18.5" fill="#231f20" text-anchor="middle" dominant-baseline="central" >200</text>
<line x1="136.2" y1="980.5" x2="136.2" y2="973.5" stroke="#3a3a3a" stroke-width="1.2" />
<text x="136.2" y="1000.6" font-size="18.5" fill="#231f20" text-anchor="middle" dominant-baseline="central" >150</text>
<line x1="204.79999999999998" y1="980.5" x2="204.79999999999998" y2="973.5" stroke="#3a3a3a" stroke-width="1.2" />
<text x="204.79999999999998" y="1000.6" font-size="18.5" fill="#231f20" text-anchor="middle" dominant-baseline="central" >100</text>
<line x1="273.4" y1="980.5" x2="273.4" y2="973.5" stroke="#3a3a3a" stroke-width="1.2" />
<text x="273.4" y="1000.6" font-size="18.5" fill="#231f20" text-anchor="middle" dominant-baseline="central" >50</text>
<line x1="342.0" y1="980.5" x2="342.0" y2="973.5" stroke="#3a3a3a" stroke-width="1.2" />
<text x="342.0" y="1000.6" font-size="18.5" fill="#231f20" text-anchor="middle" dominant-baseline="central" >0</text>
<text x="409" y="1000.6" font-size="18.5" fill="#231f20" text-anchor="middle" dominant-baseline="central" >–50</text>
<text x="236" y="1027" font-size="18" fill="#231f20" text-anchor="middle" dominant-baseline="central"><tspan font-family="Liberation Serif" font-style="italic" font-size="19">δ</tspan> (ppm)</text>
<text x="77" y="746" font-size="19" fill="#231f20" text-anchor="start" dominant-baseline="central"><tspan font-size="10" dy="-6">7</tspan><tspan dy="6">Li MAS NMR</tspan></text>
<text x="232.7" y="779.6" font-size="19" fill="#231f20" text-anchor="middle" dominant-baseline="central" >O3/H1-3</text>
<text x="309" y="884" font-size="19" fill="#231f20" text-anchor="middle" dominant-baseline="central" >Spinel/CEI</text>
<line x1="875.6" y1="978.5" x2="1190.5" y2="978.5" stroke="#aaa" stroke-width="1" />
<path d="M862.0,752.8 C868.2,755.2 885.7,759.8 899.2,767.4 C912.7,775.0 929.0,788.9 943.0,798.3 C957.0,807.7 969.1,816.5 983.0,823.8 C996.9,831.1 1012.6,837.1 1026.6,842.0 C1040.5,846.9 1057.6,849.9 1066.7,852.9 C1075.8,855.9 1077.0,856.0 1081.3,860.2 C1085.5,864.5 1088.6,869.9 1092.2,878.4 C1095.8,886.9 1098.9,899.7 1103.1,911.2 C1107.3,922.7 1113.7,936.1 1117.6,947.6 C1121.5,959.1 1125.2,974.8 1126.7,980.3" fill="none" stroke="#2f9a3e" stroke-width="2.2" stroke-linejoin="round" stroke-linecap="round" />
<path d="M862.0,747.3 C868.2,749.4 885.7,753.6 899.2,760.0 C912.7,766.4 929.0,776.7 943.0,785.5 C957.0,794.3 969.1,804.7 983.0,812.9 C996.9,821.1 1012.6,829.4 1026.6,834.7 C1040.5,840.0 1054.0,842.2 1066.7,844.9 C1079.5,847.6 1094.6,848.5 1103.1,851.0 C1111.6,853.5 1113.3,855.6 1117.6,860.2 C1121.8,864.8 1124.9,868.7 1128.6,878.4 C1132.2,888.1 1136.2,901.4 1139.5,918.4 C1142.8,935.4 1147.1,970.0 1148.6,980.3" fill="none" stroke="#2c3fa6" stroke-width="2.2" stroke-linejoin="round" stroke-linecap="round" />
<path d="M862.0,743.0 C868.2,744.9 885.7,748.4 899.2,754.6 C912.7,760.8 929.0,770.9 943.0,780.0 C957.0,789.1 969.1,801.3 983.0,809.2 C996.9,817.1 1012.6,822.5 1026.6,827.4 C1040.5,832.2 1051.5,835.7 1066.7,838.3 C1081.9,840.9 1105.6,841.8 1117.7,843.0 C1129.8,844.2 1134.0,843.4 1139.5,845.6 C1145.0,847.9 1146.8,850.4 1150.4,856.5 C1154.0,862.6 1158.6,871.7 1161.3,882.0 C1164.0,892.3 1165.6,902.0 1166.8,918.4 C1168.0,934.8 1168.3,970.0 1168.6,980.3" fill="none" stroke="#e0252c" stroke-width="2.2" stroke-linejoin="round" stroke-linecap="round" />
<path d="M862.1,740.8 C868.3,742.5 885.7,745.0 899.2,751.0 C912.7,757.0 928.9,767.4 942.9,776.5 C956.9,785.6 969.0,797.4 983.0,805.6 C997.0,813.8 1012.6,820.3 1026.6,825.6 C1040.5,830.9 1054.5,834.9 1066.7,837.6 C1078.9,840.3 1085.0,841.1 1099.5,842.0 C1114.0,842.9 1142.5,842.1 1154.0,842.7 C1165.5,843.3 1164.9,843.3 1168.6,845.6 C1172.2,847.9 1174.1,850.4 1175.9,856.5 C1177.7,862.6 1178.4,861.4 1179.5,882.0 C1180.6,902.6 1182.0,963.9 1182.5,980.3" fill="none" stroke="#1f1f1f" stroke-width="2.4" stroke-linejoin="round" stroke-linecap="round" />
<rect x="862.5" y="731.9" width="369.79999999999995" height="249.10000000000002" fill="none" stroke="#231f20" stroke-width="1.4" />
<text x="857.5" y="981.4" font-size="18.5" fill="#231f20" text-anchor="end" dominant-baseline="central" >3.0</text>
<line x1="862.5" y1="951.3" x2="869.5" y2="951.3" stroke="#231f20" stroke-width="1.2" />
<text x="857.5" y="951.3" font-size="18.5" fill="#231f20" text-anchor="end" dominant-baseline="central" >3.2</text>
<line x1="862.5" y1="921.2" x2="869.5" y2="921.2" stroke="#231f20" stroke-width="1.2" />
<text x="857.5" y="921.2" font-size="18.5" fill="#231f20" text-anchor="end" dominant-baseline="central" >3.4</text>
<line x1="862.5" y1="891.0999999999999" x2="869.5" y2="891.0999999999999" stroke="#231f20" stroke-width="1.2" />
<text x="857.5" y="891.0999999999999" font-size="18.5" fill="#231f20" text-anchor="end" dominant-baseline="central" >3.6</text>
<line x1="862.5" y1="861.0" x2="869.5" y2="861.0" stroke="#231f20" stroke-width="1.2" />
<text x="857.5" y="861.0" font-size="18.5" fill="#231f20" text-anchor="end" dominant-baseline="central" >3.8</text>
<line x1="862.5" y1="830.9" x2="869.5" y2="830.9" stroke="#231f20" stroke-width="1.2" />
<text x="857.5" y="830.9" font-size="18.5" fill="#231f20" text-anchor="end" dominant-baseline="central" >4.0</text>
<line x1="862.5" y1="800.8" x2="869.5" y2="800.8" stroke="#231f20" stroke-width="1.2" />
<text x="857.5" y="800.8" font-size="18.5" fill="#231f20" text-anchor="end" dominant-baseline="central" >4.2</text>
<line x1="862.5" y1="770.6999999999999" x2="869.5" y2="770.6999999999999" stroke="#231f20" stroke-width="1.2" />
<text x="857.5" y="770.6999999999999" font-size="18.5" fill="#231f20" text-anchor="end" dominant-baseline="central" >4.4</text>
<text x="857.5" y="740.6" font-size="18.5" fill="#231f20" text-anchor="end" dominant-baseline="central" >4.6</text>
<text x="862.1" y="1000.3" font-size="18.5" fill="#231f20" text-anchor="middle" dominant-baseline="central" >0</text>
<line x1="902.4300000000001" y1="981" x2="902.4300000000001" y2="974" stroke="#231f20" stroke-width="1.2" />
<text x="902.4300000000001" y="1000.3" font-size="18.5" fill="#231f20" text-anchor="middle" dominant-baseline="central" >25</text>
<line x1="942.76" y1="981" x2="942.76" y2="974" stroke="#231f20" stroke-width="1.2" />
<text x="942.76" y="1000.3" font-size="18.5" fill="#231f20" text-anchor="middle" dominant-baseline="central" >50</text>
<line x1="983.09" y1="981" x2="983.09" y2="974" stroke="#231f20" stroke-width="1.2" />
<text x="983.09" y="1000.3" font-size="18.5" fill="#231f20" text-anchor="middle" dominant-baseline="central" >75</text>
<line x1="1023.4200000000001" y1="981" x2="1023.4200000000001" y2="974" stroke="#231f20" stroke-width="1.2" />
<text x="1023.4200000000001" y="1000.3" font-size="18.5" fill="#231f20" text-anchor="middle" dominant-baseline="central" >100</text>
<line x1="1063.75" y1="981" x2="1063.75" y2="974" stroke="#231f20" stroke-width="1.2" />
<text x="1063.75" y="1000.3" font-size="18.5" fill="#231f20" text-anchor="middle" dominant-baseline="central" >125</text>
<line x1="1104.08" y1="981" x2="1104.08" y2="974" stroke="#231f20" stroke-width="1.2" />
<text x="1104.08" y="1000.3" font-size="18.5" fill="#231f20" text-anchor="middle" dominant-baseline="central" >150</text>
<line x1="1144.41" y1="981" x2="1144.41" y2="974" stroke="#231f20" stroke-width="1.2" />
<text x="1144.41" y="1000.3" font-size="18.5" fill="#231f20" text-anchor="middle" dominant-baseline="central" >175</text>
<line x1="1184.74" y1="981" x2="1184.74" y2="974" stroke="#231f20" stroke-width="1.2" />
<text x="1184.74" y="1000.3" font-size="18.5" fill="#231f20" text-anchor="middle" dominant-baseline="central" >200</text>
<line x1="1225.07" y1="981" x2="1225.07" y2="974" stroke="#231f20" stroke-width="1.2" />
<text x="1225.07" y="1000.3" font-size="18.5" fill="#231f20" text-anchor="middle" dominant-baseline="central" >225</text>
<text x="1059.4" y="1027.7" font-size="18.8" fill="#231f20" text-anchor="middle" dominant-baseline="central" >Discharge capacity (mA·h·g<tspan font-size="11" dy="-6">−1</tspan><tspan dy="6">)</tspan></text>
<text x="801" y="854.7" font-size="18.8" fill="#231f20" text-anchor="middle" dominant-baseline="central" transform="rotate(-90 801 854.7)">E vs Li<tspan font-size="11" dy="-6">+</tspan><tspan dy="6">/Li (V)</tspan></text>
<text x="939.3" y="754.6" font-size="18" fill="#231f20" text-anchor="start" dominant-baseline="central">LiCo<tspan font-size="11" dy="5">0.96</tspan><tspan dy="-5">Al</tspan><tspan font-size="11" dy="5">0.04</tspan><tspan dy="-5">O</tspan><tspan font-size="11" dy="5">2</tspan></text>
<text x="881" y="885.7" font-size="13.5" fill="#231f20" text-anchor="start" dominant-baseline="central" >Cyc 7</text>
<text x="920" y="885.7" font-size="13.5" fill="#d2232a" text-anchor="start" dominant-baseline="central" >Cyc 31</text>
<line x1="881" y1="898.4" x2="910" y2="898.4" stroke="#1f1f1f" stroke-width="2.4" />
<line x1="918" y1="898.4" x2="945.8" y2="898.4" stroke="#e0252c" stroke-width="2.4" />
<text x="954.6" y="900" font-size="13.5" fill="#231f20" text-anchor="start" dominant-baseline="central" >C/10</text>
<text x="881" y="916.6" font-size="13.5" fill="#1f2f9a" text-anchor="start" dominant-baseline="central" >Cyc 8</text>
<text x="920" y="916.6" font-size="13.5" fill="#139a3a" text-anchor="start" dominant-baseline="central" >Cyc 32</text>
<line x1="881" y1="928.6" x2="910" y2="928.6" stroke="#2c3fa6" stroke-width="2.4" />
<line x1="918" y1="928.6" x2="945.8" y2="928.6" stroke="#2f9a3e" stroke-width="2.4" />
<text x="955.6" y="930.5" font-size="13.5" fill="#231f20" text-anchor="start" dominant-baseline="central" >1C</text>
<g clip-path="url(#cpd)">
<rect x="60.5" y="384.5" width="348.7" height="289.0" fill="#3d5ba9" stroke="none" stroke-width="1" />
<rect x="60.5" y="484.5" width="348.7" height="75" fill="url(#hBand)" stroke="none" stroke-width="1" />
<ellipse cx="77.6" cy="495.5" rx="15" ry="12" fill="url(#hM)"/>
<ellipse cx="77.6" cy="557.5" rx="15" ry="12" fill="url(#hM)"/>
<ellipse cx="182.0" cy="495.5" rx="15" ry="12" fill="url(#hM)"/>
<ellipse cx="182.0" cy="557.5" rx="15" ry="12" fill="url(#hM)"/>
<ellipse cx="287.0" cy="495.5" rx="15" ry="12" fill="url(#hM)"/>
<ellipse cx="287.0" cy="557.5" rx="15" ry="12" fill="url(#hM)"/>
<ellipse cx="392.0" cy="495.5" rx="15" ry="12" fill="url(#hM)"/>
<ellipse cx="392.0" cy="557.5" rx="15" ry="12" fill="url(#hM)"/>
<ellipse cx="129.5" cy="527.0" rx="30" ry="13" fill="url(#hM)"/>
<ellipse cx="234.5" cy="527.0" rx="30" ry="13" fill="url(#hM)"/>
<ellipse cx="339.0" cy="527.0" rx="30" ry="13" fill="url(#hM)"/>
<ellipse cx="25.0" cy="527.0" rx="30" ry="13" fill="url(#hM)"/>
<circle cx="21.5" cy="476.0" r="44" fill="url(#hO)" stroke="none" stroke-width="1" />
<circle cx="126.5" cy="476.0" r="44" fill="url(#hO)" stroke="none" stroke-width="1" />
<circle cx="231.5" cy="476.0" r="44" fill="url(#hO)" stroke="none" stroke-width="1" />
<circle cx="336.6" cy="476.0" r="44" fill="url(#hO)" stroke="none" stroke-width="1" />
<circle cx="441.6" cy="476.0" r="44" fill="url(#hO)" stroke="none" stroke-width="1" />
<circle cx="27.5" cy="577.0" r="44" fill="url(#hO)" stroke="none" stroke-width="1" />
<circle cx="132.5" cy="577.0" r="44" fill="url(#hO)" stroke="none" stroke-width="1" />
<circle cx="237.5" cy="577.0" r="44" fill="url(#hO)" stroke="none" stroke-width="1" />
<circle cx="341.7" cy="577.0" r="44" fill="url(#hO)" stroke="none" stroke-width="1" />
<circle cx="446.7" cy="577.0" r="44" fill="url(#hO)" stroke="none" stroke-width="1" />
<circle cx="126.5" cy="369.0" r="44" fill="url(#hO)" stroke="none" stroke-width="1" />
<circle cx="231.5" cy="369.0" r="44" fill="url(#hO)" stroke="none" stroke-width="1" />
<circle cx="336.6" cy="369.0" r="44" fill="url(#hO)" stroke="none" stroke-width="1" />
<circle cx="21.5" cy="369.0" r="44" fill="url(#hO)" stroke="none" stroke-width="1" />
<circle cx="441.6" cy="369.0" r="44" fill="url(#hO)" stroke="none" stroke-width="1" />
<circle cx="129.6" cy="687.0" r="44" fill="url(#hO)" stroke="none" stroke-width="1" />
<circle cx="233.0" cy="687.0" r="44" fill="url(#hO)" stroke="none" stroke-width="1" />
<circle cx="338.0" cy="687.0" r="44" fill="url(#hO)" stroke="none" stroke-width="1" />
<circle cx="24.0" cy="687.0" r="44" fill="url(#hO)" stroke="none" stroke-width="1" />
<circle cx="443.0" cy="687.0" r="44" fill="url(#hO)" stroke="none" stroke-width="1" />
<circle cx="76.5" cy="421.5" r="22" fill="url(#hLi)" stroke="none" stroke-width="1" />
<circle cx="180.5" cy="421.5" r="22" fill="url(#hLi)" stroke="none" stroke-width="1" />
<circle cx="285.6" cy="421.5" r="22" fill="url(#hLi)" stroke="none" stroke-width="1" />
<circle cx="390.6" cy="421.5" r="22" fill="url(#hLi)" stroke="none" stroke-width="1" />
<circle cx="76.5" cy="629.5" r="22" fill="url(#hLi)" stroke="none" stroke-width="1" />
<circle cx="180.5" cy="629.5" r="22" fill="url(#hLi)" stroke="none" stroke-width="1" />
<circle cx="285.6" cy="629.5" r="22" fill="url(#hLi)" stroke="none" stroke-width="1" />
<circle cx="390.6" cy="629.5" r="22" fill="url(#hLi)" stroke="none" stroke-width="1" />
<line x1="21.5" y1="477.0" x2="49.5" y2="501.8" stroke="#d9231f" stroke-width="6.5"/>
<line x1="49.5" y1="501.8" x2="77.6" y2="526.5" stroke="#2a37a3" stroke-width="6.5"/>
<line x1="22.4" y1="476.0" x2="78.5" y2="525.5" stroke="#fff" stroke-opacity="0.35" stroke-width="1.2"/>
<line x1="126.5" y1="477.0" x2="102.0" y2="501.8" stroke="#d9231f" stroke-width="6.5"/>
<line x1="102.0" y1="501.8" x2="77.6" y2="526.5" stroke="#2a37a3" stroke-width="6.5"/>
<line x1="125.6" y1="476.1" x2="76.7" y2="525.6" stroke="#fff" stroke-opacity="0.35" stroke-width="1.2"/>
<line x1="126.5" y1="477.0" x2="154.2" y2="501.8" stroke="#d9231f" stroke-width="6.5"/>
<line x1="154.2" y1="501.8" x2="182.0" y2="526.5" stroke="#2a37a3" stroke-width="6.5"/>
<line x1="127.4" y1="476.0" x2="182.9" y2="525.5" stroke="#fff" stroke-opacity="0.35" stroke-width="1.2"/>
<line x1="231.5" y1="477.0" x2="206.8" y2="501.8" stroke="#d9231f" stroke-width="6.5"/>
<line x1="206.8" y1="501.8" x2="182.0" y2="526.5" stroke="#2a37a3" stroke-width="6.5"/>
<line x1="230.6" y1="476.1" x2="181.1" y2="525.6" stroke="#fff" stroke-opacity="0.35" stroke-width="1.2"/>
<line x1="231.5" y1="477.0" x2="259.2" y2="501.8" stroke="#d9231f" stroke-width="6.5"/>
<line x1="259.2" y1="501.8" x2="287.0" y2="526.5" stroke="#2a37a3" stroke-width="6.5"/>
<line x1="232.4" y1="476.0" x2="287.9" y2="525.5" stroke="#fff" stroke-opacity="0.35" stroke-width="1.2"/>
<line x1="336.6" y1="477.0" x2="311.8" y2="501.8" stroke="#d9231f" stroke-width="6.5"/>
<line x1="311.8" y1="501.8" x2="287.0" y2="526.5" stroke="#2a37a3" stroke-width="6.5"/>
<line x1="335.7" y1="476.1" x2="286.1" y2="525.6" stroke="#fff" stroke-opacity="0.35" stroke-width="1.2"/>
<line x1="336.6" y1="477.0" x2="364.3" y2="501.8" stroke="#d9231f" stroke-width="6.5"/>
<line x1="364.3" y1="501.8" x2="392.0" y2="526.5" stroke="#2a37a3" stroke-width="6.5"/>
<line x1="337.5" y1="476.0" x2="392.9" y2="525.5" stroke="#fff" stroke-opacity="0.35" stroke-width="1.2"/>
<line x1="441.6" y1="477.0" x2="416.8" y2="501.8" stroke="#d9231f" stroke-width="6.5"/>
<line x1="416.8" y1="501.8" x2="392.0" y2="526.5" stroke="#2a37a3" stroke-width="6.5"/>
<line x1="440.7" y1="476.1" x2="391.1" y2="525.6" stroke="#fff" stroke-opacity="0.35" stroke-width="1.2"/>
<line x1="27.5" y1="576.0" x2="52.5" y2="551.2" stroke="#d9231f" stroke-width="6.5"/>
<line x1="52.5" y1="551.2" x2="77.6" y2="526.5" stroke="#2a37a3" stroke-width="6.5"/>
<line x1="26.6" y1="575.1" x2="76.7" y2="525.6" stroke="#fff" stroke-opacity="0.35" stroke-width="1.2"/>
<line x1="132.5" y1="576.0" x2="105.0" y2="551.2" stroke="#d9231f" stroke-width="6.5"/>
<line x1="105.0" y1="551.2" x2="77.6" y2="526.5" stroke="#2a37a3" stroke-width="6.5"/>
<line x1="133.4" y1="575.0" x2="78.5" y2="525.5" stroke="#fff" stroke-opacity="0.35" stroke-width="1.2"/>
<line x1="132.5" y1="576.0" x2="157.2" y2="551.2" stroke="#d9231f" stroke-width="6.5"/>
<line x1="157.2" y1="551.2" x2="182.0" y2="526.5" stroke="#2a37a3" stroke-width="6.5"/>
<line x1="131.6" y1="575.1" x2="181.1" y2="525.6" stroke="#fff" stroke-opacity="0.35" stroke-width="1.2"/>
<line x1="237.5" y1="576.0" x2="209.8" y2="551.2" stroke="#d9231f" stroke-width="6.5"/>
<line x1="209.8" y1="551.2" x2="182.0" y2="526.5" stroke="#2a37a3" stroke-width="6.5"/>
<line x1="238.4" y1="575.0" x2="182.9" y2="525.5" stroke="#fff" stroke-opacity="0.35" stroke-width="1.2"/>
<line x1="237.5" y1="576.0" x2="262.2" y2="551.2" stroke="#d9231f" stroke-width="6.5"/>
<line x1="262.2" y1="551.2" x2="287.0" y2="526.5" stroke="#2a37a3" stroke-width="6.5"/>
<line x1="236.6" y1="575.1" x2="286.1" y2="525.6" stroke="#fff" stroke-opacity="0.35" stroke-width="1.2"/>
<line x1="341.7" y1="576.0" x2="314.4" y2="551.2" stroke="#d9231f" stroke-width="6.5"/>
<line x1="314.4" y1="551.2" x2="287.0" y2="526.5" stroke="#2a37a3" stroke-width="6.5"/>
<line x1="342.6" y1="575.0" x2="287.9" y2="525.5" stroke="#fff" stroke-opacity="0.35" stroke-width="1.2"/>
<line x1="341.7" y1="576.0" x2="366.9" y2="551.2" stroke="#d9231f" stroke-width="6.5"/>
<line x1="366.9" y1="551.2" x2="392.0" y2="526.5" stroke="#2a37a3" stroke-width="6.5"/>
<line x1="340.8" y1="575.1" x2="391.1" y2="525.6" stroke="#fff" stroke-opacity="0.35" stroke-width="1.2"/>
<line x1="446.7" y1="576.0" x2="419.4" y2="551.2" stroke="#d9231f" stroke-width="6.5"/>
<line x1="419.4" y1="551.2" x2="392.0" y2="526.5" stroke="#2a37a3" stroke-width="6.5"/>
<line x1="447.6" y1="575.0" x2="392.9" y2="525.5" stroke="#fff" stroke-opacity="0.35" stroke-width="1.2"/>
<circle cx="76.5" cy="421.5" r="13.8" fill="url(#sLi)" stroke="none" stroke-width="1" />
<circle cx="180.5" cy="421.5" r="13.8" fill="url(#sLi)" stroke="none" stroke-width="1" />
<circle cx="285.6" cy="421.5" r="13.8" fill="url(#sLi)" stroke="none" stroke-width="1" />
<circle cx="390.6" cy="421.5" r="13.8" fill="url(#sLi)" stroke="none" stroke-width="1" />
<circle cx="76.5" cy="629.5" r="13.8" fill="url(#sLi)" stroke="none" stroke-width="1" />
<circle cx="180.5" cy="629.5" r="13.8" fill="url(#sLi)" stroke="none" stroke-width="1" />
<circle cx="285.6" cy="629.5" r="13.8" fill="url(#sLi)" stroke="none" stroke-width="1" />
<circle cx="390.6" cy="629.5" r="13.8" fill="url(#sLi)" stroke="none" stroke-width="1" />
<circle cx="77.6" cy="526.5" r="16.6" fill="url(#sCo)" stroke="none" stroke-width="1" />
<circle cx="182.0" cy="526.5" r="16.6" fill="url(#sCo)" stroke="none" stroke-width="1" />
<circle cx="287.0" cy="526.5" r="16.6" fill="url(#sCo)" stroke="none" stroke-width="1" />
<circle cx="392.0" cy="526.5" r="16.6" fill="url(#sCo)" stroke="none" stroke-width="1" />
<circle cx="126.5" cy="477.0" r="13.8" fill="url(#sO)" stroke="none" stroke-width="1" />
<circle cx="231.5" cy="477.0" r="13.8" fill="url(#sO)" stroke="none" stroke-width="1" />
<circle cx="336.6" cy="477.0" r="13.8" fill="url(#sO)" stroke="none" stroke-width="1" />
<circle cx="132.5" cy="576.0" r="13.8" fill="url(#sO)" stroke="none" stroke-width="1" />
<circle cx="237.5" cy="576.0" r="13.8" fill="url(#sO)" stroke="none" stroke-width="1" />
<circle cx="341.7" cy="576.0" r="13.8" fill="url(#sO)" stroke="none" stroke-width="1" />
<rect x="60.5" y="384.5" width="348.7" height="289.0" fill="none" stroke="#555" stroke-width="0.8" />
</g>
<text x="285.6" y="421.5" font-size="16" fill="#1a1a1a" text-anchor="middle" dominant-baseline="central" >Li</text>
<text x="336.6" y="477.5" font-size="16" fill="#1a1a1a" text-anchor="middle" dominant-baseline="central" >O</text>
<text x="289" y="527" font-size="17" fill="#f2a31f" text-anchor="middle" dominant-baseline="central" >Co</text>
<g clip-path="url(#cpe)">
<rect x="467" y="385.8" width="348.20000000000005" height="282.49999999999994" fill="#3d5ba9" stroke="none" stroke-width="1" />
<rect x="467" y="485.8" width="348.20000000000005" height="75" fill="url(#hBand)" stroke="none" stroke-width="1" />
<ellipse cx="486.5" cy="492.6" rx="15" ry="12" fill="url(#hM)"/>
<ellipse cx="486.5" cy="554.6" rx="15" ry="12" fill="url(#hM)"/>
<ellipse cx="588.6" cy="492.6" rx="15" ry="12" fill="url(#hM)"/>
<ellipse cx="588.6" cy="554.6" rx="15" ry="12" fill="url(#hM)"/>
<ellipse cx="798.8" cy="492.0" rx="15" ry="12" fill="url(#hM)"/>
<ellipse cx="798.8" cy="554.0" rx="15" ry="12" fill="url(#hM)"/>
<ellipse cx="538.0" cy="525.0" rx="30" ry="13" fill="url(#hM)"/>
<ellipse cx="850.0" cy="525.0" rx="30" ry="13" fill="url(#hM)"/>
<ellipse cx="437.0" cy="525.0" rx="30" ry="13" fill="url(#hM)"/>
<circle cx="438.0" cy="470.0" r="44" fill="url(#hO)" stroke="none" stroke-width="1" />
<circle cx="539.7" cy="470.0" r="44" fill="url(#hO)" stroke="none" stroke-width="1" />
<circle cx="641.0" cy="479.0" r="44" fill="url(#hO)" stroke="none" stroke-width="1" />
<circle cx="735.8" cy="480.6" r="44" fill="url(#hO)" stroke="none" stroke-width="1" />
<circle cx="900.0" cy="474.0" r="44" fill="url(#hO)" stroke="none" stroke-width="1" />
<circle cx="440.0" cy="574.0" r="44" fill="url(#hO)" stroke="none" stroke-width="1" />
<circle cx="540.6" cy="574.0" r="44" fill="url(#hO)" stroke="none" stroke-width="1" />
<circle cx="644.0" cy="575.6" r="44" fill="url(#hO)" stroke="none" stroke-width="1" />
<circle cx="738.8" cy="580.0" r="44" fill="url(#hO)" stroke="none" stroke-width="1" />
<circle cx="900.0" cy="576.0" r="44" fill="url(#hO)" stroke="none" stroke-width="1" />
<circle cx="543.0" cy="368.0" r="44" fill="url(#hO)" stroke="none" stroke-width="1" />
<circle cx="642.0" cy="368.0" r="44" fill="url(#hO)" stroke="none" stroke-width="1" />
<circle cx="748.0" cy="368.0" r="44" fill="url(#hO)" stroke="none" stroke-width="1" />
<circle cx="440.0" cy="368.0" r="44" fill="url(#hO)" stroke="none" stroke-width="1" />
<circle cx="850.0" cy="368.0" r="44" fill="url(#hO)" stroke="none" stroke-width="1" />
<circle cx="533.0" cy="683.0" r="44" fill="url(#hO)" stroke="none" stroke-width="1" />
<circle cx="638.0" cy="683.0" r="44" fill="url(#hO)" stroke="none" stroke-width="1" />
<circle cx="742.0" cy="683.0" r="44" fill="url(#hO)" stroke="none" stroke-width="1" />
<circle cx="430.0" cy="683.0" r="44" fill="url(#hO)" stroke="none" stroke-width="1" />
<circle cx="846.0" cy="683.0" r="44" fill="url(#hO)" stroke="none" stroke-width="1" />
<circle cx="492.5" cy="420.0" r="22" fill="url(#hLi)" stroke="none" stroke-width="1" />
<circle cx="593.0" cy="420.0" r="22" fill="url(#hLi)" stroke="none" stroke-width="1" />
<circle cx="693.7" cy="420.0" r="22" fill="url(#hLi)" stroke="none" stroke-width="1" />
<circle cx="803.0" cy="420.0" r="22" fill="url(#hLi)" stroke="none" stroke-width="1" />
<circle cx="483.5" cy="630.0" r="22" fill="url(#hLi)" stroke="none" stroke-width="1" />
<circle cx="585.6" cy="630.0" r="22" fill="url(#hLi)" stroke="none" stroke-width="1" />
<circle cx="690.7" cy="630.0" r="22" fill="url(#hLi)" stroke="none" stroke-width="1" />
<circle cx="792.0" cy="630.0" r="22" fill="url(#hLi)" stroke="none" stroke-width="1" />
<circle cx="695.0" cy="532.6" r="32" fill="url(#hV)" stroke="none" stroke-width="1" />
<line x1="438.0" y1="471.0" x2="462.2" y2="497.3" stroke="#d9231f" stroke-width="6.5"/>
<line x1="462.2" y1="497.3" x2="486.5" y2="523.6" stroke="#2a37a3" stroke-width="6.5"/>
<line x1="439.0" y1="470.1" x2="487.5" y2="522.7" stroke="#fff" stroke-opacity="0.35" stroke-width="1.2"/>
<line x1="539.7" y1="471.0" x2="513.1" y2="497.3" stroke="#d9231f" stroke-width="6.5"/>
<line x1="513.1" y1="497.3" x2="486.5" y2="523.6" stroke="#2a37a3" stroke-width="6.5"/>
<line x1="538.8" y1="470.1" x2="485.6" y2="522.7" stroke="#fff" stroke-opacity="0.35" stroke-width="1.2"/>
<line x1="539.7" y1="471.0" x2="564.2" y2="497.3" stroke="#d9231f" stroke-width="6.5"/>
<line x1="564.2" y1="497.3" x2="588.6" y2="523.6" stroke="#2a37a3" stroke-width="6.5"/>
<line x1="540.7" y1="470.1" x2="589.6" y2="522.7" stroke="#fff" stroke-opacity="0.35" stroke-width="1.2"/>
<line x1="641.0" y1="480.0" x2="614.8" y2="501.8" stroke="#d9231f" stroke-width="6.5"/>
<line x1="614.8" y1="501.8" x2="588.6" y2="523.6" stroke="#2a37a3" stroke-width="6.5"/>
<line x1="640.2" y1="479.0" x2="587.8" y2="522.6" stroke="#fff" stroke-opacity="0.35" stroke-width="1.2"/>
<line x1="641.0" y1="480.0" x2="668.0" y2="506.3" stroke="#d9231f" stroke-width="6.5"/>
<line x1="668.0" y1="506.3" x2="695.0" y2="532.6" stroke="#43c6d2" stroke-width="6.5"/>
<line x1="641.9" y1="479.1" x2="695.9" y2="531.7" stroke="#fff" stroke-opacity="0.35" stroke-width="1.2"/>
<line x1="735.8" y1="481.6" x2="767.3" y2="502.3" stroke="#d9231f" stroke-width="6.5"/>
<line x1="767.3" y1="502.3" x2="798.8" y2="523.0" stroke="#2a37a3" stroke-width="6.5"/>
<line x1="736.5" y1="480.5" x2="799.5" y2="521.9" stroke="#fff" stroke-opacity="0.35" stroke-width="1.2"/>
<line x1="735.8" y1="481.6" x2="715.4" y2="507.1" stroke="#d9231f" stroke-width="6.5"/>
<line x1="715.4" y1="507.1" x2="695.0" y2="532.6" stroke="#43c6d2" stroke-width="6.5"/>
<line x1="734.8" y1="480.8" x2="694.0" y2="531.8" stroke="#fff" stroke-opacity="0.35" stroke-width="1.2"/>
<line x1="440.0" y1="573.0" x2="463.2" y2="548.3" stroke="#d9231f" stroke-width="6.5"/>
<line x1="463.2" y1="548.3" x2="486.5" y2="523.6" stroke="#2a37a3" stroke-width="6.5"/>
<line x1="439.1" y1="572.1" x2="485.6" y2="522.7" stroke="#fff" stroke-opacity="0.35" stroke-width="1.2"/>
<line x1="540.6" y1="573.0" x2="513.5" y2="548.3" stroke="#d9231f" stroke-width="6.5"/>
<line x1="513.5" y1="548.3" x2="486.5" y2="523.6" stroke="#2a37a3" stroke-width="6.5"/>
<line x1="541.5" y1="572.0" x2="487.4" y2="522.6" stroke="#fff" stroke-opacity="0.35" stroke-width="1.2"/>
<line x1="540.6" y1="573.0" x2="564.6" y2="548.3" stroke="#d9231f" stroke-width="6.5"/>
<line x1="564.6" y1="548.3" x2="588.6" y2="523.6" stroke="#2a37a3" stroke-width="6.5"/>
<line x1="539.7" y1="572.1" x2="587.7" y2="522.7" stroke="#fff" stroke-opacity="0.35" stroke-width="1.2"/>
<line x1="644.0" y1="574.6" x2="616.3" y2="549.1" stroke="#d9231f" stroke-width="6.5"/>
<line x1="616.3" y1="549.1" x2="588.6" y2="523.6" stroke="#2a37a3" stroke-width="6.5"/>
<line x1="644.9" y1="573.6" x2="589.5" y2="522.6" stroke="#fff" stroke-opacity="0.35" stroke-width="1.2"/>
<line x1="644.0" y1="574.6" x2="669.5" y2="553.6" stroke="#d9231f" stroke-width="6.5"/>
<line x1="669.5" y1="553.6" x2="695.0" y2="532.6" stroke="#43c6d2" stroke-width="6.5"/>
<line x1="643.2" y1="573.6" x2="694.2" y2="531.6" stroke="#fff" stroke-opacity="0.35" stroke-width="1.2"/>
<line x1="738.8" y1="579.0" x2="768.8" y2="551.0" stroke="#d9231f" stroke-width="6.5"/>
<line x1="768.8" y1="551.0" x2="798.8" y2="523.0" stroke="#2a37a3" stroke-width="6.5"/>
<line x1="737.9" y1="578.0" x2="797.9" y2="522.0" stroke="#fff" stroke-opacity="0.35" stroke-width="1.2"/>
<line x1="738.8" y1="579.0" x2="716.9" y2="555.8" stroke="#d9231f" stroke-width="6.5"/>
<line x1="716.9" y1="555.8" x2="695.0" y2="532.6" stroke="#43c6d2" stroke-width="6.5"/>
<line x1="739.7" y1="578.1" x2="695.9" y2="531.7" stroke="#fff" stroke-opacity="0.35" stroke-width="1.2"/>
<circle cx="492.5" cy="420.0" r="13.8" fill="url(#sLi)" stroke="none" stroke-width="1" />
<circle cx="593.0" cy="420.0" r="13.8" fill="url(#sLi)" stroke="none" stroke-width="1" />
<circle cx="693.7" cy="420.0" r="13.8" fill="url(#sLi)" stroke="none" stroke-width="1" />
<circle cx="803.0" cy="420.0" r="13.8" fill="url(#sLi)" stroke="none" stroke-width="1" />
<circle cx="483.5" cy="630.0" r="13.8" fill="url(#sLi)" stroke="none" stroke-width="1" />
<circle cx="585.6" cy="630.0" r="13.8" fill="url(#sLi)" stroke="none" stroke-width="1" />
<circle cx="690.7" cy="630.0" r="13.8" fill="url(#sLi)" stroke="none" stroke-width="1" />
<circle cx="792.0" cy="630.0" r="13.8" fill="url(#sLi)" stroke="none" stroke-width="1" />
<circle cx="486.5" cy="523.6" r="16.6" fill="url(#sCo)" stroke="none" stroke-width="1" />
<circle cx="588.6" cy="523.6" r="16.6" fill="url(#sCo)" stroke="none" stroke-width="1" />
<circle cx="798.8" cy="523.0" r="16.6" fill="url(#sCo)" stroke="none" stroke-width="1" />
<circle cx="539.7" cy="471.0" r="13.8" fill="url(#sO)" stroke="none" stroke-width="1" />
<circle cx="641.0" cy="480.0" r="13.8" fill="url(#sO)" stroke="none" stroke-width="1" />
<circle cx="735.8" cy="481.6" r="13.8" fill="url(#sO)" stroke="none" stroke-width="1" />
<circle cx="540.6" cy="573.0" r="13.8" fill="url(#sO)" stroke="none" stroke-width="1" />
<circle cx="644.0" cy="574.6" r="13.8" fill="url(#sO)" stroke="none" stroke-width="1" />
<circle cx="738.8" cy="579.0" r="13.8" fill="url(#sO)" stroke="none" stroke-width="1" />
<circle cx="695.0" cy="532.6" r="17" fill="url(#sV)" stroke="none" stroke-width="1" />
<rect x="467" y="385.8" width="348.20000000000005" height="282.49999999999994" fill="none" stroke="#555" stroke-width="0.8" />
</g>
<text x="695" y="530" font-size="17" fill="#1a1a1a" text-anchor="middle" dominant-baseline="central" >V</text>
<g clip-path="url(#cpf)">
<rect x="868.3" y="384.5" width="348.70000000000005" height="288.0" fill="#3d5ba9" stroke="none" stroke-width="1" />
<rect x="868.3" y="484.5" width="348.70000000000005" height="75" fill="url(#hBand)" stroke="none" stroke-width="1" />
<ellipse cx="885.4" cy="492.6" rx="15" ry="12" fill="url(#hM)"/>
<ellipse cx="885.4" cy="554.6" rx="15" ry="12" fill="url(#hM)"/>
<ellipse cx="988.4" cy="492.6" rx="15" ry="12" fill="url(#hM)"/>
<ellipse cx="988.4" cy="554.6" rx="15" ry="12" fill="url(#hM)"/>
<ellipse cx="1099.8" cy="492.6" rx="15" ry="12" fill="url(#hM)"/>
<ellipse cx="1099.8" cy="554.6" rx="15" ry="12" fill="url(#hM)"/>
<ellipse cx="1199.5" cy="492.6" rx="15" ry="12" fill="url(#hM)"/>
<ellipse cx="1199.5" cy="554.6" rx="15" ry="12" fill="url(#hM)"/>
<ellipse cx="938.0" cy="527.0" rx="30" ry="13" fill="url(#hM)"/>
<ellipse cx="1150.0" cy="527.0" rx="30" ry="13" fill="url(#hM)"/>
<ellipse cx="1040.0" cy="527.0" rx="40" ry="16" fill="url(#hM)"/>
<ellipse cx="1041.7" cy="485" rx="56" ry="38" fill="url(#hVac)"/>
<circle cx="835.0" cy="473.0" r="44" fill="url(#hO)" stroke="none" stroke-width="1" />
<circle cx="937.7" cy="473.6" r="44" fill="url(#hO)" stroke="none" stroke-width="1" />
<circle cx="1142.0" cy="472.0" r="44" fill="url(#hO)" stroke="none" stroke-width="1" />
<circle cx="1245.0" cy="473.0" r="44" fill="url(#hO)" stroke="none" stroke-width="1" />
<circle cx="836.0" cy="581.0" r="44" fill="url(#hO)" stroke="none" stroke-width="1" />
<circle cx="939.4" cy="583.7" r="44" fill="url(#hO)" stroke="none" stroke-width="1" />
<circle cx="1047.5" cy="573.6" r="44" fill="url(#hO)" stroke="none" stroke-width="1" />
<circle cx="1150.5" cy="578.6" r="44" fill="url(#hO)" stroke="none" stroke-width="1" />
<circle cx="1252.0" cy="579.0" r="44" fill="url(#hO)" stroke="none" stroke-width="1" />
<circle cx="933.0" cy="367.0" r="44" fill="url(#hO)" stroke="none" stroke-width="1" />
<circle cx="1039.0" cy="367.0" r="44" fill="url(#hO)" stroke="none" stroke-width="1" />
<circle cx="1142.0" cy="367.0" r="44" fill="url(#hO)" stroke="none" stroke-width="1" />
<circle cx="830.0" cy="367.0" r="44" fill="url(#hO)" stroke="none" stroke-width="1" />
<circle cx="1246.0" cy="367.0" r="44" fill="url(#hO)" stroke="none" stroke-width="1" />
<circle cx="939.4" cy="687.0" r="44" fill="url(#hO)" stroke="none" stroke-width="1" />
<circle cx="1045.8" cy="687.0" r="44" fill="url(#hO)" stroke="none" stroke-width="1" />
<circle cx="1145.4" cy="687.0" r="44" fill="url(#hO)" stroke="none" stroke-width="1" />
<circle cx="836.0" cy="687.0" r="44" fill="url(#hO)" stroke="none" stroke-width="1" />
<circle cx="1250.0" cy="687.0" r="44" fill="url(#hO)" stroke="none" stroke-width="1" />
<circle cx="885.4" cy="419.0" r="22" fill="url(#hLi)" stroke="none" stroke-width="1" />
<circle cx="981.6" cy="419.0" r="22" fill="url(#hLi)" stroke="none" stroke-width="1" />
<circle cx="1099.8" cy="419.0" r="22" fill="url(#hLi)" stroke="none" stroke-width="1" />
<circle cx="1197.8" cy="419.0" r="22" fill="url(#hLi)" stroke="none" stroke-width="1" />
<circle cx="885.4" cy="630.0" r="22" fill="url(#hLi)" stroke="none" stroke-width="1" />
<circle cx="995.0" cy="630.0" r="22" fill="url(#hLi)" stroke="none" stroke-width="1" />
<circle cx="1098.0" cy="630.0" r="22" fill="url(#hLi)" stroke="none" stroke-width="1" />
<circle cx="1197.8" cy="630.0" r="22" fill="url(#hLi)" stroke="none" stroke-width="1" />
<line x1="835.0" y1="474.0" x2="860.2" y2="498.8" stroke="#d9231f" stroke-width="6.5"/>
<line x1="860.2" y1="498.8" x2="885.4" y2="523.6" stroke="#2a37a3" stroke-width="6.5"/>
<line x1="835.9" y1="473.1" x2="886.3" y2="522.7" stroke="#fff" stroke-opacity="0.35" stroke-width="1.2"/>
<line x1="937.7" y1="474.6" x2="911.5" y2="499.1" stroke="#d9231f" stroke-width="6.5"/>
<line x1="911.5" y1="499.1" x2="885.4" y2="523.6" stroke="#2a37a3" stroke-width="6.5"/>
<line x1="936.8" y1="473.7" x2="884.5" y2="522.7" stroke="#fff" stroke-opacity="0.35" stroke-width="1.2"/>
<line x1="937.7" y1="474.6" x2="963.0" y2="499.1" stroke="#d9231f" stroke-width="6.5"/>
<line x1="963.0" y1="499.1" x2="988.4" y2="523.6" stroke="#2a37a3" stroke-width="6.5"/>
<line x1="938.6" y1="473.7" x2="989.3" y2="522.7" stroke="#fff" stroke-opacity="0.35" stroke-width="1.2"/>
<line x1="1142.0" y1="473.0" x2="1120.9" y2="498.3" stroke="#d9231f" stroke-width="6.5"/>
<line x1="1120.9" y1="498.3" x2="1099.8" y2="523.6" stroke="#2a37a3" stroke-width="6.5"/>
<line x1="1141.0" y1="472.2" x2="1098.8" y2="522.8" stroke="#fff" stroke-opacity="0.35" stroke-width="1.2"/>
<line x1="1142.0" y1="473.0" x2="1170.8" y2="498.3" stroke="#d9231f" stroke-width="6.5"/>
<line x1="1170.8" y1="498.3" x2="1199.5" y2="523.6" stroke="#2a37a3" stroke-width="6.5"/>
<line x1="1142.9" y1="472.0" x2="1200.4" y2="522.6" stroke="#fff" stroke-opacity="0.35" stroke-width="1.2"/>
<line x1="1245.0" y1="474.0" x2="1222.2" y2="498.8" stroke="#d9231f" stroke-width="6.5"/>
<line x1="1222.2" y1="498.8" x2="1199.5" y2="523.6" stroke="#2a37a3" stroke-width="6.5"/>
<line x1="1244.0" y1="473.1" x2="1198.5" y2="522.7" stroke="#fff" stroke-opacity="0.35" stroke-width="1.2"/>
<line x1="836.0" y1="580.0" x2="860.7" y2="551.8" stroke="#d9231f" stroke-width="6.5"/>
<line x1="860.7" y1="551.8" x2="885.4" y2="523.6" stroke="#2a37a3" stroke-width="6.5"/>
<line x1="835.0" y1="579.1" x2="884.4" y2="522.7" stroke="#fff" stroke-opacity="0.35" stroke-width="1.2"/>
<line x1="939.4" y1="582.7" x2="912.4" y2="553.2" stroke="#d9231f" stroke-width="6.5"/>
<line x1="912.4" y1="553.2" x2="885.4" y2="523.6" stroke="#2a37a3" stroke-width="6.5"/>
<line x1="940.4" y1="581.8" x2="886.4" y2="522.7" stroke="#fff" stroke-opacity="0.35" stroke-width="1.2"/>
<line x1="939.4" y1="582.7" x2="963.9" y2="553.2" stroke="#d9231f" stroke-width="6.5"/>
<line x1="963.9" y1="553.2" x2="988.4" y2="523.6" stroke="#2a37a3" stroke-width="6.5"/>
<line x1="938.4" y1="581.9" x2="987.4" y2="522.8" stroke="#fff" stroke-opacity="0.35" stroke-width="1.2"/>
<line x1="1047.5" y1="572.6" x2="1018.0" y2="548.1" stroke="#d9231f" stroke-width="6.5"/>
<line x1="1018.0" y1="548.1" x2="988.4" y2="523.6" stroke="#2a37a3" stroke-width="6.5"/>
<line x1="1048.3" y1="571.6" x2="989.2" y2="522.6" stroke="#fff" stroke-opacity="0.35" stroke-width="1.2"/>
<line x1="1047.5" y1="572.6" x2="1073.7" y2="548.1" stroke="#d9231f" stroke-width="6.5"/>
<line x1="1073.7" y1="548.1" x2="1099.8" y2="523.6" stroke="#2a37a3" stroke-width="6.5"/>
<line x1="1046.6" y1="571.7" x2="1098.9" y2="522.7" stroke="#fff" stroke-opacity="0.35" stroke-width="1.2"/>
<line x1="1150.5" y1="577.6" x2="1125.2" y2="550.6" stroke="#d9231f" stroke-width="6.5"/>
<line x1="1125.2" y1="550.6" x2="1099.8" y2="523.6" stroke="#2a37a3" stroke-width="6.5"/>
<line x1="1151.4" y1="576.7" x2="1100.7" y2="522.7" stroke="#fff" stroke-opacity="0.35" stroke-width="1.2"/>
<line x1="1150.5" y1="577.6" x2="1175.0" y2="550.6" stroke="#d9231f" stroke-width="6.5"/>
<line x1="1175.0" y1="550.6" x2="1199.5" y2="523.6" stroke="#2a37a3" stroke-width="6.5"/>
<line x1="1149.5" y1="576.7" x2="1198.5" y2="522.7" stroke="#fff" stroke-opacity="0.35" stroke-width="1.2"/>
<line x1="1252.0" y1="578.0" x2="1225.8" y2="550.8" stroke="#d9231f" stroke-width="6.5"/>
<line x1="1225.8" y1="550.8" x2="1199.5" y2="523.6" stroke="#2a37a3" stroke-width="6.5"/>
<line x1="1252.9" y1="577.1" x2="1200.4" y2="522.7" stroke="#fff" stroke-opacity="0.35" stroke-width="1.2"/>
<circle cx="885.4" cy="419.0" r="13.8" fill="url(#sLi)" stroke="none" stroke-width="1" />
<circle cx="981.6" cy="419.0" r="13.8" fill="url(#sLi)" stroke="none" stroke-width="1" />
<circle cx="1099.8" cy="419.0" r="13.8" fill="url(#sLi)" stroke="none" stroke-width="1" />
<circle cx="1197.8" cy="419.0" r="13.8" fill="url(#sLi)" stroke="none" stroke-width="1" />
<circle cx="885.4" cy="630.0" r="13.8" fill="url(#sLi)" stroke="none" stroke-width="1" />
<circle cx="995.0" cy="630.0" r="13.8" fill="url(#sLi)" stroke="none" stroke-width="1" />
<circle cx="1098.0" cy="630.0" r="13.8" fill="url(#sLi)" stroke="none" stroke-width="1" />
<circle cx="1197.8" cy="630.0" r="13.8" fill="url(#sLi)" stroke="none" stroke-width="1" />
<circle cx="885.4" cy="523.6" r="16.6" fill="url(#sCo)" stroke="none" stroke-width="1" />
<circle cx="988.4" cy="523.6" r="16.6" fill="url(#sCo)" stroke="none" stroke-width="1" />
<circle cx="1099.8" cy="523.6" r="16.6" fill="url(#sCo)" stroke="none" stroke-width="1" />
<circle cx="1199.5" cy="523.6" r="16.6" fill="url(#sCo)" stroke="none" stroke-width="1" />
<circle cx="937.7" cy="474.6" r="13.8" fill="url(#sO)" stroke="none" stroke-width="1" />
<circle cx="1142.0" cy="473.0" r="13.8" fill="url(#sO)" stroke="none" stroke-width="1" />
<circle cx="939.4" cy="582.7" r="13.8" fill="url(#sO)" stroke="none" stroke-width="1" />
<circle cx="1047.5" cy="572.6" r="13.8" fill="url(#sO)" stroke="none" stroke-width="1" />
<circle cx="1150.5" cy="577.6" r="13.8" fill="url(#sO)" stroke="none" stroke-width="1" />
<rect x="868.3" y="384.5" width="348.70000000000005" height="288.0" fill="none" stroke="#555" stroke-width="0.8" />
</g>
<text x="1040.7" y="476" font-size="18.5" fill="#1a1a1a" text-anchor="middle" dominant-baseline="central" >Oxygen</text>
<text x="1040.7" y="495.5" font-size="18.5" fill="#1a1a1a" text-anchor="middle" dominant-baseline="central" >vacancy</text>
<rect x="1221.4" y="384.5" width="9" height="288" fill="url(#cbar)" stroke="#231f20" stroke-width="1.2" />
<line x1="1230.5" y1="531" x2="1227" y2="531" stroke="#231f20" stroke-width="1.2" />
<text x="1237" y="388" font-size="18" fill="#231f20" text-anchor="start" dominant-baseline="central" >1.0</text>
<text x="1237" y="531" font-size="18" fill="#231f20" text-anchor="start" dominant-baseline="central" >0.5</text>
<text x="1237" y="672" font-size="18" fill="#231f20" text-anchor="start" dominant-baseline="central" >0</text>
<path d="M543.2,961.1 C540.8,958.5 533.2,951.3 528.8,945.5 C524.4,939.7 518.6,931.9 516.8,926.3 C515.0,920.7 519.2,916.7 518.0,911.9 C516.8,907.1 511.4,904.3 509.6,897.5 C507.8,890.7 506.4,877.5 507.2,871.1 C508.0,864.7 513.8,863.9 514.4,859.1 C515.0,854.3 511.6,847.5 510.8,842.3 C510.0,837.1 507.8,832.2 509.6,827.8 C511.4,823.4 519.6,819.8 521.6,815.8 C523.6,811.8 520.0,807.4 521.6,803.8 C523.2,800.2 530.0,798.2 531.2,794.2 C532.4,790.2 527.0,783.4 528.8,779.8 C530.6,776.2 537.1,777.3 542.0,772.6 C546.9,767.9 554.5,754.7 557.9,751.8 C561.2,748.9 561.1,755.4 562.1,755.3 C563.1,755.2 560.5,753.1 563.9,751.0 C567.3,748.9 574.6,744.1 582.6,742.5 C590.6,740.9 606.5,742.3 611.6,741.6 C616.7,740.9 608.8,740.5 613.3,738.2 C617.8,735.9 633.1,729.1 638.8,728.0 C644.5,726.9 644.2,732.4 647.3,731.4 C650.4,730.4 654.6,722.7 657.5,722.0 C660.4,721.3 661.3,724.1 664.4,727.1 C667.5,730.1 673.5,737.6 676.3,739.9 C679.1,742.2 677.7,742.2 681.4,740.8 C685.1,739.4 692.1,732.4 698.4,731.4 C704.6,730.4 713.2,733.1 718.9,734.8 C724.6,736.5 728.7,738.0 732.5,741.6 C736.3,745.2 740.6,752.1 741.9,756.1 C743.2,760.1 740.5,763.9 740.2,765.5 L739.3,764.3 L736.4,762.3 L733.4,760.4 L730.4,758.6 L727.3,756.9 L724.3,755.2 L721.2,753.7 L718.0,752.2 L714.8,750.8 L711.7,749.5 L708.4,748.3 L705.2,747.2 L701.9,746.2 L698.7,745.2 L695.4,744.4 L692.1,743.6 L688.8,742.9 L685.5,742.3 L682.2,741.8 L678.8,741.4 L675.5,741.0 L672.2,740.8 L668.9,740.6 L665.6,740.5 L662.3,740.5 L659.0,740.6 L655.8,740.8 L652.5,741.1 L649.3,741.4 L646.0,741.5 L642.8,741.7 L639.6,741.9 L636.4,742.2 L633.2,742.6 L630.0,743.0 L626.9,743.6 L623.7,744.2 L620.6,744.9 L617.5,745.7 L614.4,746.6 L611.3,747.5 L608.3,748.5 L605.2,749.6 L602.2,750.8 L599.3,752.0 L596.4,753.3 L593.5,754.7 L590.6,756.2 L587.8,757.7 L585.1,759.3 L582.3,761.0 L579.6,762.8 L577.0,764.6 L574.4,766.5 L571.9,768.4 L569.4,770.4 L567.0,772.5 L564.6,774.6 L562.2,776.8 L560.0,779.0 L557.8,781.3 L555.6,783.7 L553.5,786.1 L551.5,788.6 L549.5,791.1 L547.6,793.6 L545.8,796.2 L544.0,798.9 L542.3,801.6 L540.7,804.3 L539.2,807.1 L537.7,809.9 L536.3,812.8 L534.9,815.7 L533.7,818.6 L532.5,821.5 L531.4,824.5 L530.3,827.5 L529.4,830.5 L528.5,833.6 L527.7,836.7 L526.9,839.7 L526.3,842.8 L525.7,846.0 L525.2,849.1 L524.8,852.2 L524.5,855.4 L524.3,858.6 L524.1,861.7 L524.0,864.9 L524.0,868.0 L524.2,871.2 L524.4,874.4 L524.7,877.5 L525.1,880.6 L525.6,883.8 L526.1,886.9 L526.8,889.9 L527.5,893.0 L528.3,896.0 L529.1,899.1 L530.1,902.1 L531.1,905.0 L532.2,908.0 L533.3,910.9 L534.5,913.7 L535.9,916.6 L537.2,919.4 L538.7,922.1 L540.2,924.8 L541.8,927.5 L543.4,930.1 L545.1,932.7 L546.9,935.3 L548.7,937.8 L550.6,940.2 L552.5,942.6 L554.6,945.0 L556.6,947.3 L558.7,949.5 L560.9,951.7 Z" fill="#f3dd9c" stroke="none"/>
<path d="M543.2,961.1 C540.8,958.5 533.2,951.3 528.8,945.5 C524.4,939.7 518.6,931.9 516.8,926.3 C515.0,920.7 519.2,916.7 518.0,911.9 C516.8,907.1 511.4,904.3 509.6,897.5 C507.8,890.7 506.4,877.5 507.2,871.1 C508.0,864.7 513.8,863.9 514.4,859.1 C515.0,854.3 511.6,847.5 510.8,842.3 C510.0,837.1 507.8,832.2 509.6,827.8 C511.4,823.4 519.6,819.8 521.6,815.8 C523.6,811.8 520.0,807.4 521.6,803.8 C523.2,800.2 530.0,798.2 531.2,794.2 C532.4,790.2 527.0,783.4 528.8,779.8 C530.6,776.2 537.1,777.3 542.0,772.6 C546.9,767.9 554.5,754.7 557.9,751.8 C561.2,748.9 561.1,755.4 562.1,755.3 C563.1,755.2 560.5,753.1 563.9,751.0 C567.3,748.9 574.6,744.1 582.6,742.5 C590.6,740.9 606.5,742.3 611.6,741.6 C616.7,740.9 608.8,740.5 613.3,738.2 C617.8,735.9 633.1,729.1 638.8,728.0 C644.5,726.9 644.2,732.4 647.3,731.4 C650.4,730.4 654.6,722.7 657.5,722.0 C660.4,721.3 661.3,724.1 664.4,727.1 C667.5,730.1 673.5,737.6 676.3,739.9 C679.1,742.2 677.7,742.2 681.4,740.8 C685.1,739.4 692.1,732.4 698.4,731.4 C704.6,730.4 713.2,733.1 718.9,734.8 C724.6,736.5 728.7,738.0 732.5,741.6 C736.3,745.2 740.6,752.1 741.9,756.1 C743.2,760.1 740.5,763.9 740.2,765.5" fill="none" stroke="#8fb6cf" stroke-width="1.3"/>
<path d="M563.6,949.1 L561.6,947.0 L559.6,944.7 L557.7,942.4 L555.8,940.1 L554.0,937.7 L552.3,935.3 L550.6,932.8 L549.0,930.3 L547.4,927.8 L545.9,925.2 L544.5,922.6 L543.2,919.9 L541.9,917.2 L540.7,914.5 L539.5,911.7 L538.4,908.9 L537.4,906.1 L536.5,903.3 L535.6,900.4 L534.9,897.6 L534.1,894.7 L533.5,891.8 L532.9,888.8 L532.5,885.9 L532.0,882.9 L531.7,880.0 L531.4,877.0 L531.2,874.0 L531.1,871.0 L531.1,868.0 L531.1,865.1 L531.3,862.1 L531.4,859.1 L531.7,856.1 L532.1,853.2 L532.5,850.2 L533.0,847.3 L533.5,844.3 L534.2,841.4 L534.9,838.5 L535.7,835.7 L536.5,832.8 L537.5,830.0 L538.5,827.2 L539.6,824.4 L540.7,821.6 L541.9,818.9 L543.2,816.2 L544.6,813.5 L546.0,810.9 L547.5,808.3 L549.0,805.8 L550.6,803.3 L552.3,800.8 L554.1,798.4 L555.9,796.0 L557.7,793.7 L559.7,791.4 L561.6,789.2 L563.7,787.0 L565.8,784.9 L567.9,782.8 L570.1,780.8 L572.3,778.8 L574.6,776.9 L577.0,775.0 L579.4,773.3 L581.8,771.5 L584.3,769.9 L586.8,768.3 L589.4,766.7 L592.0,765.3 L594.6,763.9 L597.3,762.5 L600.0,761.3 L602.7,760.1 L605.5,758.9 L608.3,757.9 L611.1,756.9 L613.9,756.0 L616.8,755.1 L619.7,754.4 L622.6,753.7 L625.5,753.1 L628.4,752.5 L631.4,752.0 L634.3,751.6 L637.3,751.3 L640.3,751.1 L643.2,750.9 L646.2,750.8 L649.2,750.8 L652.2,750.9 L655.2,751.0 L658.1,751.2 L661.1,751.5 L664.1,751.9 L667.0,752.3 L670.0,752.8 L672.9,753.4 L675.8,754.0 L678.7,754.8 L681.6,755.6 L684.4,756.5 L687.2,757.4 L690.0,758.4 L692.8,759.5 L695.6,760.7 L698.3,761.9 L701.0,763.2 L703.6,764.6 L706.2,766.0 L708.8,767.6 L711.3,769.1 L713.8,770.8 L716.3,772.4 L718.7,774.2 L721.1,776.0 L723.4,777.9 L725.7,779.8 L739.3,764.3 L736.4,762.3 L733.4,760.4 L730.4,758.6 L727.3,756.9 L724.3,755.2 L721.2,753.7 L718.0,752.2 L714.8,750.8 L711.7,749.5 L708.4,748.3 L705.2,747.2 L701.9,746.2 L698.7,745.2 L695.4,744.4 L692.1,743.6 L688.8,742.9 L685.5,742.3 L682.2,741.8 L678.8,741.4 L675.5,741.0 L672.2,740.8 L668.9,740.6 L665.6,740.5 L662.3,740.5 L659.0,740.6 L655.8,740.8 L652.5,741.1 L649.3,741.4 L646.0,741.5 L642.8,741.7 L639.6,741.9 L636.4,742.2 L633.2,742.6 L630.0,743.0 L626.9,743.6 L623.7,744.2 L620.6,744.9 L617.5,745.7 L614.4,746.6 L611.3,747.5 L608.3,748.5 L605.2,749.6 L602.2,750.8 L599.3,752.0 L596.4,753.3 L593.5,754.7 L590.6,756.2 L587.8,757.7 L585.1,759.3 L582.3,761.0 L579.6,762.8 L577.0,764.6 L574.4,766.5 L571.9,768.4 L569.4,770.4 L567.0,772.5 L564.6,774.6 L562.2,776.8 L560.0,779.0 L557.8,781.3 L555.6,783.7 L553.5,786.1 L551.5,788.6 L549.5,791.1 L547.6,793.6 L545.8,796.2 L544.0,798.9 L542.3,801.6 L540.7,804.3 L539.2,807.1 L537.7,809.9 L536.3,812.8 L534.9,815.7 L533.7,818.6 L532.5,821.5 L531.4,824.5 L530.3,827.5 L529.4,830.5 L528.5,833.6 L527.7,836.7 L526.9,839.7 L526.3,842.8 L525.7,846.0 L525.2,849.1 L524.8,852.2 L524.5,855.4 L524.3,858.6 L524.1,861.7 L524.0,864.9 L524.0,868.0 L524.2,871.2 L524.4,874.4 L524.7,877.5 L525.1,880.6 L525.6,883.8 L526.1,886.9 L526.8,889.9 L527.5,893.0 L528.3,896.0 L529.1,899.1 L530.1,902.1 L531.1,905.0 L532.2,908.0 L533.3,910.9 L534.5,913.7 L535.9,916.6 L537.2,919.4 L538.7,922.1 L540.2,924.8 L541.8,927.5 L543.4,930.1 L545.1,932.7 L546.9,935.3 L548.7,937.8 L550.6,940.2 L552.5,942.6 L554.6,945.0 L556.6,947.3 L558.7,949.5 L560.9,951.7 Z" fill="#d9d9da" stroke="none"/>
<path d="M563.6,949.1 L561.6,947.0 L559.6,944.7 L557.7,942.4 L555.8,940.1 L554.0,937.7 L552.3,935.3 L550.6,932.8 L549.0,930.3 L547.4,927.8 L545.9,925.2 L544.5,922.6 L543.2,919.9 L541.9,917.2 L540.7,914.5 L539.5,911.7 L538.4,908.9 L537.4,906.1 L536.5,903.3 L535.6,900.4 L534.9,897.6 L534.1,894.7 L533.5,891.8 L532.9,888.8 L532.5,885.9 L532.0,882.9 L531.7,880.0 L531.4,877.0 L531.2,874.0 L531.1,871.0 L531.1,868.0 L531.1,865.1 L531.3,862.1 L531.4,859.1 L531.7,856.1 L532.1,853.2 L532.5,850.2 L533.0,847.3 L533.5,844.3 L534.2,841.4 L534.9,838.5 L535.7,835.7 L536.5,832.8 L537.5,830.0 L538.5,827.2 L539.6,824.4 L540.7,821.6 L541.9,818.9 L543.2,816.2 L544.6,813.5 L546.0,810.9 L547.5,808.3 L549.0,805.8 L550.6,803.3 L552.3,800.8 L554.1,798.4 L555.9,796.0 L557.7,793.7 L559.7,791.4 L561.6,789.2 L563.7,787.0 L565.8,784.9 L567.9,782.8 L570.1,780.8 L572.3,778.8 L574.6,776.9 L577.0,775.0 L579.4,773.3 L581.8,771.5 L584.3,769.9 L586.8,768.3 L589.4,766.7 L592.0,765.3 L594.6,763.9 L597.3,762.5 L600.0,761.3 L602.7,760.1 L605.5,758.9 L608.3,757.9 L611.1,756.9 L613.9,756.0 L616.8,755.1 L619.7,754.4 L622.6,753.7 L625.5,753.1 L628.4,752.5 L631.4,752.0 L634.3,751.6 L637.3,751.3 L640.3,751.1 L643.2,750.9 L646.2,750.8 L649.2,750.8 L652.2,750.9 L655.2,751.0 L658.1,751.2 L661.1,751.5 L664.1,751.9 L667.0,752.3 L670.0,752.8 L672.9,753.4 L675.8,754.0 L678.7,754.8 L681.6,755.6 L684.4,756.5 L687.2,757.4 L690.0,758.4 L692.8,759.5 L695.6,760.7 L698.3,761.9 L701.0,763.2 L703.6,764.6 L706.2,766.0 L708.8,767.6 L711.3,769.1 L713.8,770.8 L716.3,772.4 L718.7,774.2 L721.1,776.0 L723.4,777.9 L725.7,779.8" fill="none" stroke="#3a3a3a" stroke-width="1.5"/>
<path d="M560.9,951.7 L558.7,949.5 L556.6,947.3 L554.6,945.0 L552.5,942.6 L550.6,940.2 L548.7,937.8 L546.9,935.3 L545.1,932.7 L543.4,930.1 L541.8,927.5 L540.2,924.8 L538.7,922.1 L537.2,919.4 L535.9,916.6 L534.5,913.7 L533.3,910.9 L532.2,908.0 L531.1,905.0 L530.1,902.1 L529.1,899.1 L528.3,896.0 L527.5,893.0 L526.8,889.9 L526.1,886.9 L525.6,883.8 L525.1,880.6 L524.7,877.5 L524.4,874.4 L524.2,871.2 L524.0,868.0 L524.0,864.9 L524.1,861.7 L524.3,858.6 L524.5,855.4 L524.8,852.2 L525.2,849.1 L525.7,846.0 L526.3,842.8 L526.9,839.7 L527.7,836.7 L528.5,833.6 L529.4,830.5 L530.3,827.5 L531.4,824.5 L532.5,821.5 L533.7,818.6 L534.9,815.7 L536.3,812.8 L537.7,809.9 L539.2,807.1 L540.7,804.3 L542.3,801.6 L544.0,798.9 L545.8,796.2 L547.6,793.6 L549.5,791.1 L551.5,788.6 L553.5,786.1 L555.6,783.7 L557.8,781.3 L560.0,779.0 L562.2,776.8 L564.6,774.6 L567.0,772.5 L569.4,770.4 L571.9,768.4 L574.4,766.5 L577.0,764.6 L579.6,762.8 L582.3,761.0 L585.1,759.3 L587.8,757.7 L590.6,756.2 L593.5,754.7 L596.4,753.3 L599.3,752.0 L602.2,750.8 L605.2,749.6 L608.3,748.5 L611.3,747.5 L614.4,746.6 L617.5,745.7 L620.6,744.9 L623.7,744.2 L626.9,743.6 L630.0,743.0 L633.2,742.6 L636.4,742.2 L639.6,741.9 L642.8,741.7 L646.0,741.5 L649.3,741.4 L652.5,741.1 L655.8,740.8 L659.0,740.6 L662.3,740.5 L665.6,740.5 L668.9,740.6 L672.2,740.8 L675.5,741.0 L678.8,741.4 L682.2,741.8 L685.5,742.3 L688.8,742.9 L692.1,743.6 L695.4,744.4 L698.7,745.2 L701.9,746.2 L705.2,747.2 L708.4,748.3 L711.7,749.5 L714.8,750.8 L718.0,752.2 L721.2,753.7 L724.3,755.2 L727.3,756.9 L730.4,758.6 L733.4,760.4 L736.4,762.3 L739.3,764.3" fill="none" stroke="#3a3a3a" stroke-width="1.3"/>
<line x1="508.3" y1="746" x2="536.0462316912347" y2="763.1650416394926" stroke="#231f20" stroke-width="1.6" />
<polygon points="543.7,767.9 533.9,766.6 538.2,759.8" fill="#231f20" stroke="none" stroke-width="1" />
<line x1="617.8" y1="956.3" x2="553.8212126288986" y2="932.1754019995709" stroke="#231f20" stroke-width="1.6" />
<polygon points="545.4,929.0 555.2,928.4 552.4,935.9" fill="#231f20" stroke="none" stroke-width="1" />
<text x="468.4" y="730" font-size="18" fill="#231f20" text-anchor="start" dominant-baseline="central" >Stable CEI</text>
<text x="639.8" y="852.7" font-size="18" fill="#231f20" text-anchor="middle" dominant-baseline="central" >Al-doped</text>
<text x="639.8" y="873.2" font-size="18" fill="#231f20" text-anchor="middle" dominant-baseline="central">Li<tspan font-family="Liberation Serif" font-style="italic" font-size="13" dy="4">x</tspan><tspan dy="-4">CoO</tspan><tspan font-size="12" dy="4">2</tspan></text>
<text x="676.8" y="949.1" font-size="18" fill="#231f20" text-anchor="middle" dominant-baseline="central" >Conductive</text>
<text x="676.8" y="968.6" font-size="18" fill="#231f20" text-anchor="middle" dominant-baseline="central" >lithiated spinel</text>
<line x1="1010.9" y1="98.7" x2="1010.0999999999999" y2="76.0" stroke="#e08a22" stroke-width="6" />
<line x1="1010.0999999999999" y1="76.0" x2="1009.3" y2="53.3" stroke="#cf2020" stroke-width="6" />
<line x1="1010.9" y1="98.7" x2="987.4" y2="87.35" stroke="#e08a22" stroke-width="6" />
<line x1="987.4" y1="87.35" x2="963.9" y2="76" stroke="#cf2020" stroke-width="6" />
<line x1="1010.9" y1="98.7" x2="1028.35" y2="89.0" stroke="#e08a22" stroke-width="6" />
<line x1="1028.35" y1="89.0" x2="1045.8" y2="79.3" stroke="#cf2020" stroke-width="6" />
<line x1="1010.9" y1="98.7" x2="989.5999999999999" y2="110.6" stroke="#e08a22" stroke-width="6" />
<line x1="989.5999999999999" y1="110.6" x2="968.3" y2="122.5" stroke="#cf2020" stroke-width="6" />
<line x1="1010.9" y1="98.7" x2="1030.05" y2="110.35" stroke="#e08a22" stroke-width="6" />
<line x1="1030.05" y1="110.35" x2="1049.2" y2="122" stroke="#cf2020" stroke-width="6" />
<line x1="1010.9" y1="98.7" x2="1009.25" y2="124.44999999999999" stroke="#e08a22" stroke-width="6" />
<line x1="1009.25" y1="124.44999999999999" x2="1007.6" y2="150.2" stroke="#cf2020" stroke-width="6" />
<circle cx="1009.3" cy="53.3" r="9.3" fill="url(#sOc)" stroke="none" stroke-width="1" />
<circle cx="963.9" cy="76.0" r="9.3" fill="url(#sOc)" stroke="none" stroke-width="1" />
<circle cx="1045.8" cy="79.3" r="9.3" fill="url(#sOc)" stroke="none" stroke-width="1" />
<circle cx="968.3" cy="122.5" r="9.3" fill="url(#sOc)" stroke="none" stroke-width="1" />
<circle cx="1049.2" cy="122.0" r="9.3" fill="url(#sOc)" stroke="none" stroke-width="1" />
<circle cx="1007.6" cy="150.2" r="9.3" fill="url(#sOc)" stroke="none" stroke-width="1" />
<circle cx="1010.9" cy="98.7" r="16" fill="url(#sVc)" stroke="none" stroke-width="1" />
<line x1="1181.6" y1="98.5" x2="1181.6" y2="76.35" stroke="#7a2e90" stroke-width="6" />
<line x1="1181.6" y1="76.35" x2="1181.6" y2="54.2" stroke="#cf2020" stroke-width="6" />
<line x1="1181.6" y1="98.5" x2="1163.6" y2="89.85" stroke="#7a2e90" stroke-width="6" />
<line x1="1163.6" y1="89.85" x2="1145.6" y2="81.2" stroke="#cf2020" stroke-width="6" />
<line x1="1181.6" y1="98.5" x2="1200.3" y2="88.85" stroke="#7a2e90" stroke-width="6" />
<line x1="1200.3" y1="88.85" x2="1219" y2="79.2" stroke="#cf2020" stroke-width="6" />
<line x1="1181.6" y1="98.5" x2="1163.6" y2="109.6" stroke="#7a2e90" stroke-width="6" />
<line x1="1163.6" y1="109.6" x2="1145.6" y2="120.7" stroke="#cf2020" stroke-width="6" />
<line x1="1181.6" y1="98.5" x2="1200.3" y2="108.55" stroke="#7a2e90" stroke-width="6" />
<line x1="1200.3" y1="108.55" x2="1219" y2="118.6" stroke="#cf2020" stroke-width="6" />
<line x1="1181.6" y1="98.5" x2="1180.9" y2="121.7" stroke="#7a2e90" stroke-width="6" />
<line x1="1180.9" y1="121.7" x2="1180.2" y2="144.9" stroke="#cf2020" stroke-width="6" />
<circle cx="1181.6" cy="54.2" r="8.3" fill="url(#sOc)" stroke="none" stroke-width="1" />
<circle cx="1145.6" cy="81.2" r="8.3" fill="url(#sOc)" stroke="none" stroke-width="1" />
<circle cx="1219.0" cy="79.2" r="8.3" fill="url(#sOc)" stroke="none" stroke-width="1" />
<circle cx="1145.6" cy="120.7" r="8.3" fill="url(#sOc)" stroke="none" stroke-width="1" />
<circle cx="1219.0" cy="118.6" r="8.3" fill="url(#sOc)" stroke="none" stroke-width="1" />
<circle cx="1180.2" cy="144.9" r="8.3" fill="url(#sOc)" stroke="none" stroke-width="1" />
<circle cx="1181.6" cy="98.5" r="11.5" fill="url(#sCoc)" stroke="none" stroke-width="1" />
<text x="1004.5" y="34.2" font-size="18.8" fill="#ef8b2c" text-anchor="middle" dominant-baseline="central" >–1.114</text>
<text x="948.5" y="94.2" font-size="18.8" fill="#ef8b2c" text-anchor="middle" dominant-baseline="central" >–1.173</text>
<text x="1065" y="94.2" font-size="18.8" fill="#ef8b2c" text-anchor="middle" dominant-baseline="central" >–1.141</text>
<text x="948.5" y="141.7" font-size="18.8" fill="#ef8b2c" text-anchor="middle" dominant-baseline="central" >–1.128</text>
<text x="1059" y="141.7" font-size="18.8" fill="#ef8b2c" text-anchor="middle" dominant-baseline="central" >–1.104</text>
<text x="1004.5" y="169" font-size="18.8" fill="#ef8b2c" text-anchor="middle" dominant-baseline="central" >–1.170</text>
<text x="992.4" y="70.6" font-size="18" fill="#ef8b2c" text-anchor="middle" dominant-baseline="central" >V</text>
<text x="1179.5" y="36.2" font-size="18.8" fill="#7b2e8e" text-anchor="middle" dominant-baseline="central" >–1.050</text>
<text x="1127" y="99.3" font-size="18.8" fill="#7b2e8e" text-anchor="middle" dominant-baseline="central" >–1.057</text>
<text x="1129.6" y="138.7" font-size="18.8" fill="#7b2e8e" text-anchor="middle" dominant-baseline="central" >–1.058</text>
<text x="1228" y="138.7" font-size="18.8" fill="#7b2e8e" text-anchor="middle" dominant-baseline="central" >–1.061</text>
<text x="1179.5" y="166.4" font-size="18.8" fill="#7b2e8e" text-anchor="middle" dominant-baseline="central" >–1.062</text>
<text x="1208" y="95.8" font-size="18.8" fill="#7b2e8e" text-anchor="start" dominant-baseline="central" >–1.059</text>
<rect x="1265" y="85" width="26" height="25" fill="#fff" stroke="none" stroke-width="1" />
<text x="1205" y="64" font-size="18" fill="#7b2e8e" text-anchor="middle" dominant-baseline="central" >Co</text>
<text x="1130.6" y="68" font-size="18" fill="#d0202a" text-anchor="middle" dominant-baseline="central" >O</text>
<text x="1102.9" y="192.7" font-size="18.5" fill="#d0202a" text-anchor="middle" dominant-baseline="central" >Charged high voltage</text>
<line x1="984.8" y1="253.8" x2="1080" y2="253.8" stroke="#231f20" stroke-width="2" />
<line x1="1095" y1="253.8" x2="1196" y2="253.8" stroke="#231f20" stroke-width="2" />
<path d="M3,0 C17.6,-2.9 25.0,-19.0 44.0,-19.0 A19 19 0 0 1 44.0,19.0 C25.0,19.0 17.6,2.9 3,0 Z" transform="translate(973.7 254.2) rotate(-135)" fill="url(#lV)" stroke="none" stroke-width="1.5"/>
<path d="M3,0 C17.6,-2.9 25.0,-19.0 44.0,-19.0 A19 19 0 0 1 44.0,19.0 C25.0,19.0 17.6,2.9 3,0 Z" transform="translate(973.7 254.2) rotate(45)" fill="url(#lV)" stroke="none" stroke-width="1.5"/>
<path d="M3,0 C17.6,-2.9 25.0,-19.0 44.0,-19.0 A19 19 0 0 1 44.0,19.0 C25.0,19.0 17.6,2.9 3,0 Z" transform="translate(973.7 254.2) rotate(-45)" fill="#fff" stroke="#ef8b2c" stroke-width="1.5"/>
<path d="M3,0 C17.6,-2.9 25.0,-19.0 44.0,-19.0 A19 19 0 0 1 44.0,19.0 C25.0,19.0 17.6,2.9 3,0 Z" transform="translate(973.7 254.2) rotate(135)" fill="#fff" stroke="#ef8b2c" stroke-width="1.5"/>
<line x1="997" y1="244" x2="997" y2="222" stroke="#ef9a2a" stroke-width="2" />
<polygon points="993.5,224.0 1000.5,224.0 997.0,215.0" fill="#ef9a2a" stroke="none" stroke-width="1" />
<rect x="966" y="247" width="15" height="15" fill="#fff" stroke="none" stroke-width="1" />
<text x="973.7" y="254.8" font-size="13" fill="#ef8b2c" text-anchor="middle" dominant-baseline="central" >V</text>
<path d="M4,0 C13.2,-2.3 17.5,-15.5 33.0,-15.5 A15.5 15.5 0 0 1 33.0,15.5 C17.5,15.5 13.2,2.3 4,0 Z" transform="translate(1087.7 252.7) rotate(-90)" fill="#fff" stroke="#d84a66" stroke-width="1.5"/>
<path d="M1076,259 L1099,259 C1103,270 1104,290 1101,299 C1098,305 1078,305 1074,299 C1071,290 1072,270 1076,259 Z" fill="url(#lO)"/>
<line x1="1082.8" y1="242" x2="1082.8" y2="220" stroke="#7b2e8e" stroke-width="1.8" />
<polygon points="1079.3,222.0 1086.3,222.0 1082.8,213.5" fill="#7b2e8e" stroke="none" stroke-width="1" />
<line x1="1092.5" y1="213.7" x2="1092.5" y2="236" stroke="#7b2e8e" stroke-width="1.8" />
<polygon points="1089.0,234.0 1096.0,234.0 1092.5,242.5" fill="#7b2e8e" stroke="none" stroke-width="1" />
<rect x="1079" y="245" width="18" height="16" fill="#fff" stroke="none" stroke-width="1" />
<text x="1087.7" y="253.5" font-size="14" fill="#d0202a" text-anchor="middle" dominant-baseline="central" >O<tspan font-size="9" dy="-5">−</tspan></text>
<path d="M3,0 C17.6,-2.9 25.0,-19.0 44.0,-19.0 A19 19 0 0 1 44.0,19.0 C25.0,19.0 17.6,2.9 3,0 Z" transform="translate(1207.2 252.7) rotate(-135)" fill="url(#lCo)" stroke="none" stroke-width="1.5"/>
<path d="M3,0 C17.6,-2.9 25.0,-19.0 44.0,-19.0 A19 19 0 0 1 44.0,19.0 C25.0,19.0 17.6,2.9 3,0 Z" transform="translate(1207.2 252.7) rotate(45)" fill="url(#lCo)" stroke="none" stroke-width="1.5"/>
<path d="M3,0 C17.6,-2.9 25.0,-19.0 44.0,-19.0 A19 19 0 0 1 44.0,19.0 C25.0,19.0 17.6,2.9 3,0 Z" transform="translate(1207.2 252.7) rotate(-45)" fill="#fff" stroke="#7b2e8e" stroke-width="1.5"/>
<path d="M3,0 C17.6,-2.9 25.0,-19.0 44.0,-19.0 A19 19 0 0 1 44.0,19.0 C25.0,19.0 17.6,2.9 3,0 Z" transform="translate(1207.2 252.7) rotate(135)" fill="#fff" stroke="#7b2e8e" stroke-width="1.5"/>
<line x1="1226.7" y1="243.8" x2="1226.7" y2="222" stroke="#7b2e8e" stroke-width="1.8" />
<polygon points="1223.2,224.0 1230.2,224.0 1226.7,214.5" fill="#7b2e8e" stroke="none" stroke-width="1" />
<line x1="1236.5" y1="214.5" x2="1236.5" y2="236" stroke="#7b2e8e" stroke-width="1.8" />
<polygon points="1233.0,234.0 1240.0,234.0 1236.5,243.8" fill="#7b2e8e" stroke="none" stroke-width="1" />
<rect x="1195" y="245" width="25" height="16" fill="#fff" stroke="none" stroke-width="1" />
<text x="1207.2" y="253.5" font-size="14" fill="#7b2e8e" text-anchor="middle" dominant-baseline="central" >Co</text>
<text x="1026.6" y="303.2" font-size="19" fill="#d0202a" text-anchor="middle" dominant-baseline="central" >e<tspan font-size="12" dy="-6">−</tspan></text>
<text x="1124.2" y="304" font-size="19" fill="#d0202a" text-anchor="middle" dominant-baseline="central" >e<tspan font-size="12" dy="-6">−</tspan></text>
<text x="1162.5" y="304" font-size="19" fill="#d0202a" text-anchor="middle" dominant-baseline="central" >e<tspan font-size="12" dy="-6">−</tspan></text>
<text x="974.2" y="318.4" font-size="19" fill="#ef8b2c" text-anchor="middle" dominant-baseline="central" >V</text>
<text x="1086.8" y="322.7" font-size="19" fill="#d0202a" text-anchor="middle" dominant-baseline="central" >O<tspan font-size="12" dy="-6">−</tspan></text>
<text x="1205.6" y="315.4" font-size="19" fill="#7b2e8e" text-anchor="middle" dominant-baseline="central" >Co</text>
<polygon points="1001.5,314.0 1032.0,314.0 1032.0,308.5 1054.5,319.5 1032.0,331.0 1032.0,325.0 1001.5,325.0" fill="url(#bigarr)" stroke="#6a2a2a" stroke-width="1" />
<polygon points="1111.2,317.8 1131.7,317.8 1131.7,314.9 1139.7,319.4 1131.7,323.9 1131.7,321.0 1111.2,321.0" fill="#8a2a2a" stroke="#4a1a1a" stroke-width="0.9" />
<polygon points="1173.0,317.8 1154.2,317.8 1154.2,314.9 1146.2,319.4 1154.2,323.9 1154.2,321.0 1173.0,321.0" fill="#8a2a2a" stroke="#4a1a1a" stroke-width="0.9" />
<text x="1047.5" y="341.1" font-size="19" fill="#d0202a" text-anchor="middle" dominant-baseline="central" >Reduce oxidation state</text>
<circle cx="148.0" cy="28.6" r="8.8" fill="url(#aLi)" stroke="none" stroke-width="1" />
<circle cx="197.9" cy="24.9" r="8.8" fill="url(#aLi)" stroke="none" stroke-width="1" />
<circle cx="192.4" cy="33.2" r="8.8" fill="url(#aLi)" stroke="none" stroke-width="1" />
<circle cx="242.8" cy="28.6" r="8.8" fill="url(#aLi)" stroke="none" stroke-width="1" />
<circle cx="130.5" cy="123.4" r="8.8" fill="url(#aLi)" stroke="none" stroke-width="1" />
<circle cx="181.3" cy="119.1" r="8.8" fill="url(#aLi)" stroke="none" stroke-width="1" />
<circle cx="175.7" cy="127.0" r="8.8" fill="url(#aLi)" stroke="none" stroke-width="1" />
<circle cx="163.2" cy="214.4" r="8.8" fill="url(#aLi)" stroke="none" stroke-width="1" />
<circle cx="213.1" cy="210.2" r="8.8" fill="url(#aLi)" stroke="none" stroke-width="1" />
<circle cx="207.3" cy="218.3" r="8.8" fill="url(#aLi)" stroke="none" stroke-width="1" />
<circle cx="258.0" cy="214.4" r="8.8" fill="url(#aLi)" stroke="none" stroke-width="1" />
<circle cx="150.4" cy="302.0" r="8.8" fill="url(#aLi)" stroke="none" stroke-width="1" />
<circle cx="200.4" cy="297.4" r="8.8" fill="url(#aLi)" stroke="none" stroke-width="1" />
<circle cx="195.2" cy="305.5" r="8.8" fill="url(#aLi)" stroke="none" stroke-width="1" />
<circle cx="245.7" cy="302.0" r="8.8" fill="url(#aLi)" stroke="none" stroke-width="1" />
<polygon points="129.8,57.4 177.0,57.5 190.0,103.0 143.4,101.3" fill="#2eaaad" stroke="none" stroke-width="1" />
<polygon points="177.0,57.5 190.0,103.0 159.9,80.2" fill="#23999c" stroke="none" stroke-width="1" opacity="0.8"/>
<polygon points="129.8,57.4 143.4,101.3 159.9,80.2" fill="#4cb8ba" stroke="none" stroke-width="1" opacity="0.55"/>
<polyline points="129.8,57.4 159.9,80.2 190,103" fill="none" stroke="#6ccbd0" stroke-width="0.8" opacity="0.6"/>
<polygon points="129.8,57.4 177,57.5 190,103 143.4,101.3" fill="none" stroke="#2c9ea4" stroke-width="0.8"/>
<polygon points="177.0,57.5 222.0,61.0 238.5,101.3 190.0,103.0" fill="#2eaaad" stroke="none" stroke-width="1" />
<polygon points="222.0,61.0 238.5,101.3 207.8,79.4" fill="#23999c" stroke="none" stroke-width="1" opacity="0.8"/>
<polygon points="177.0,57.5 190.0,103.0 207.8,79.4" fill="#4cb8ba" stroke="none" stroke-width="1" opacity="0.55"/>
<polyline points="177,57.5 207.75,79.4 238.5,101.3" fill="none" stroke="#6ccbd0" stroke-width="0.8" opacity="0.6"/>
<polygon points="177,57.5 222,61 238.5,101.3 190,103" fill="none" stroke="#2c9ea4" stroke-width="0.8"/>
<polygon points="222.0,61.0 274.8,54.0 288.7,98.6 238.5,101.3" fill="#2eaaad" stroke="none" stroke-width="1" />
<polygon points="274.8,54.0 288.7,98.6 255.3,79.8" fill="#23999c" stroke="none" stroke-width="1" opacity="0.8"/>
<polygon points="222.0,61.0 238.5,101.3 255.3,79.8" fill="#4cb8ba" stroke="none" stroke-width="1" opacity="0.55"/>
<polyline points="222,61 255.35,79.8 288.7,98.6" fill="none" stroke="#6ccbd0" stroke-width="0.8" opacity="0.6"/>
<polygon points="222,61 274.8,54 288.7,98.6 238.5,101.3" fill="none" stroke="#2c9ea4" stroke-width="0.8"/>
<polygon points="129.8,57.4 180.0,54.0 230.2,50.5 274.8,54.0 222.0,61.0 177.0,57.5" fill="#3cb2b4" stroke="none" stroke-width="1" />
<circle cx="148.6" cy="94.4" r="3" fill="#5a8080" stroke="none" stroke-width="1" opacity="0.85"/>
<circle cx="193.2" cy="97.2" r="3" fill="#5a8080" stroke="none" stroke-width="1" opacity="0.85"/>
<circle cx="243.8" cy="94.1" r="3" fill="#5a8080" stroke="none" stroke-width="1" opacity="0.85"/>
<circle cx="212.0" cy="73.5" r="7" fill="#4aa8c8" stroke="none" stroke-width="1" opacity="0.6"/>
<circle cx="161.8" cy="77.6" r="7.2" fill="url(#aCo)" stroke="none" stroke-width="1" />
<circle cx="206.4" cy="81.1" r="7.2" fill="url(#aCo)" stroke="none" stroke-width="1" />
<circle cx="256.6" cy="77.6" r="7.2" fill="url(#aCo)" stroke="none" stroke-width="1" />
<circle cx="129.8" cy="57.4" r="3.6" fill="url(#aO)" stroke="none" stroke-width="1" />
<circle cx="180.0" cy="54.0" r="3.6" fill="url(#aO)" stroke="none" stroke-width="1" />
<circle cx="230.2" cy="50.5" r="3.6" fill="url(#aO)" stroke="none" stroke-width="1" />
<circle cx="174.7" cy="61.2" r="3.6" fill="url(#aO)" stroke="none" stroke-width="1" />
<circle cx="224.9" cy="57.4" r="3.6" fill="url(#aO)" stroke="none" stroke-width="1" />
<circle cx="219.3" cy="64.8" r="3.6" fill="url(#aO)" stroke="none" stroke-width="1" />
<circle cx="143.4" cy="101.3" r="3.6" fill="url(#aO)" stroke="none" stroke-width="1" />
<circle cx="188.3" cy="104.8" r="3.6" fill="url(#aO)" stroke="none" stroke-width="1" />
<circle cx="238.5" cy="101.3" r="3.6" fill="url(#aO)" stroke="none" stroke-width="1" />
<circle cx="288.7" cy="98.6" r="3.6" fill="url(#aO)" stroke="none" stroke-width="1" />
<circle cx="278.0" cy="52.0" r="3.6" fill="url(#aO)" stroke="none" stroke-width="1" />
<polygon points="195.3,103.4 238.5,101.3 256.6,148.0 207.8,151.5" fill="#d0783a" stroke="none" stroke-width="1" opacity="0.9"/>
<polygon points="238.5,101.3 256.6,148.0 226.0,125.0" fill="#c06a30" stroke="none" stroke-width="1" opacity="0.6"/>
<circle cx="225.6" cy="123.4" r="8.8" fill="url(#aLi)" stroke="none" stroke-width="1" opacity="0.75"/>
<polygon points="68.7,148.4 115.0,148.0 126.1,196.1 81.7,192.9" fill="#2eaaad" stroke="none" stroke-width="1" />
<polygon points="115.0,148.0 126.1,196.1 97.4,172.2" fill="#23999c" stroke="none" stroke-width="1" opacity="0.8"/>
<polygon points="68.7,148.4 81.7,192.9 97.4,172.2" fill="#4cb8ba" stroke="none" stroke-width="1" opacity="0.55"/>
<polyline points="68.7,148.4 97.4,172.25 126.1,196.1" fill="none" stroke="#6ccbd0" stroke-width="0.8" opacity="0.6"/>
<polygon points="68.7,148.4 115,148 126.1,196.1 81.7,192.9" fill="none" stroke="#2c9ea4" stroke-width="0.8"/>
<polygon points="115.0,148.0 160.0,152.0 170.6,199.4 126.1,196.1" fill="#2eaaad" stroke="none" stroke-width="1" />
<polygon points="160.0,152.0 170.6,199.4 142.8,173.7" fill="#23999c" stroke="none" stroke-width="1" opacity="0.8"/>
<polygon points="115.0,148.0 126.1,196.1 142.8,173.7" fill="#4cb8ba" stroke="none" stroke-width="1" opacity="0.55"/>
<polyline points="115,148 142.8,173.7 170.6,199.4" fill="none" stroke="#6ccbd0" stroke-width="0.8" opacity="0.6"/>
<polygon points="115,148 160,152 170.6,199.4 126.1,196.1" fill="none" stroke="#2c9ea4" stroke-width="0.8"/>
<polygon points="160.0,152.0 205.0,155.0 220.5,196.1 170.6,199.4" fill="#2eaaad" stroke="none" stroke-width="1" />
<polygon points="205.0,155.0 220.5,196.1 190.2,174.1" fill="#23999c" stroke="none" stroke-width="1" opacity="0.8"/>
<polygon points="160.0,152.0 170.6,199.4 190.2,174.1" fill="#4cb8ba" stroke="none" stroke-width="1" opacity="0.55"/>
<polyline points="160,152 190.25,174.05 220.5,196.1" fill="none" stroke="#6ccbd0" stroke-width="0.8" opacity="0.6"/>
<polygon points="160,152 205,155 220.5,196.1 170.6,199.4" fill="none" stroke="#2c9ea4" stroke-width="0.8"/>
<polygon points="205.0,155.0 255.0,152.0 270.8,192.9 220.5,196.1" fill="#2eaaad" stroke="none" stroke-width="1" />
<polygon points="255.0,152.0 270.8,192.9 237.9,173.9" fill="#23999c" stroke="none" stroke-width="1" opacity="0.8"/>
<polygon points="205.0,155.0 220.5,196.1 237.9,173.9" fill="#4cb8ba" stroke="none" stroke-width="1" opacity="0.55"/>
<polyline points="205,155 237.9,173.95 270.8,192.9" fill="none" stroke="#6ccbd0" stroke-width="0.8" opacity="0.6"/>
<polygon points="205,155 255,152 270.8,192.9 220.5,196.1" fill="none" stroke="#2c9ea4" stroke-width="0.8"/>
<polygon points="68.7,148.4 117.5,144.7 167.4,140.8 262.8,141.3 255.0,152.0 205.0,155.0 160.0,152.0 115.0,148.0" fill="#3cb2b4" stroke="none" stroke-width="1" />
<polygon points="203.0,142.0 253.0,141.5 256.6,148.0 207.8,151.5" fill="#a08050" stroke="none" stroke-width="1" opacity="0.75"/>
<polygon points="255.0,152.0 262.8,141.3 307.2,145.2 321.3,189.6 270.8,192.9" fill="#d8d898" stroke="none" stroke-width="1" opacity="0.9"/>
<polygon points="307.2,145.2 321.3,189.6 290.0,170.0" fill="#c8c888" stroke="none" stroke-width="1" opacity="0.6"/>
<circle cx="86.5" cy="186.0" r="3" fill="#5a8080" stroke="none" stroke-width="1" opacity="0.85"/>
<circle cx="131.6" cy="188.6" r="3" fill="#5a8080" stroke="none" stroke-width="1" opacity="0.85"/>
<circle cx="176.0" cy="192.5" r="3" fill="#5a8080" stroke="none" stroke-width="1" opacity="0.85"/>
<circle cx="225.9" cy="189.0" r="3" fill="#5a8080" stroke="none" stroke-width="1" opacity="0.85"/>
<circle cx="275.8" cy="186.0" r="3" fill="#5a8080" stroke="none" stroke-width="1" opacity="0.85"/>
<circle cx="148.9" cy="163.6" r="7" fill="#4aa8c8" stroke="none" stroke-width="1" opacity="0.6"/>
<circle cx="194.5" cy="166.9" r="7" fill="#4aa8c8" stroke="none" stroke-width="1" opacity="0.6"/>
<circle cx="244.3" cy="163.6" r="7" fill="#4aa8c8" stroke="none" stroke-width="1" opacity="0.6"/>
<circle cx="99.5" cy="169.0" r="7.2" fill="url(#aCo)" stroke="none" stroke-width="1" />
<circle cx="144.6" cy="172.3" r="7.2" fill="url(#aCo)" stroke="none" stroke-width="1" />
<circle cx="189.0" cy="175.5" r="7.2" fill="url(#aCo)" stroke="none" stroke-width="1" />
<circle cx="238.9" cy="172.3" r="7.2" fill="url(#aCo)" stroke="none" stroke-width="1" />
<circle cx="289.5" cy="169.0" r="7" fill="url(#aV2)" stroke="none" stroke-width="1" />
<circle cx="117.5" cy="144.7" r="3.6" fill="url(#aO)" stroke="none" stroke-width="1" />
<circle cx="167.4" cy="140.8" r="3.6" fill="url(#aO)" stroke="none" stroke-width="1" />
<circle cx="262.8" cy="141.3" r="3.6" fill="url(#aO)" stroke="none" stroke-width="1" />
<circle cx="112.5" cy="151.7" r="3.6" fill="url(#aO)" stroke="none" stroke-width="1" />
<circle cx="162.4" cy="148.4" r="3.6" fill="url(#aO)" stroke="none" stroke-width="1" />
<circle cx="157.6" cy="155.6" r="3.6" fill="url(#aO)" stroke="none" stroke-width="1" />
<circle cx="207.5" cy="151.7" r="3.6" fill="url(#aO)" stroke="none" stroke-width="1" />
<circle cx="202.0" cy="158.8" r="3.6" fill="url(#aO)" stroke="none" stroke-width="1" />
<circle cx="257.4" cy="148.4" r="3.6" fill="url(#aO)" stroke="none" stroke-width="1" />
<circle cx="252.0" cy="155.6" r="3.6" fill="url(#aO)" stroke="none" stroke-width="1" />
<circle cx="307.2" cy="145.2" r="3.6" fill="url(#aO)" stroke="none" stroke-width="1" />
<circle cx="302.5" cy="151.7" r="3.6" fill="url(#aO)" stroke="none" stroke-width="1" />
<circle cx="81.7" cy="192.9" r="3.6" fill="url(#aO)" stroke="none" stroke-width="1" />
<circle cx="126.1" cy="196.1" r="3.6" fill="url(#aO)" stroke="none" stroke-width="1" />
<circle cx="170.6" cy="199.4" r="3.6" fill="url(#aO)" stroke="none" stroke-width="1" />
<circle cx="220.5" cy="196.1" r="3.6" fill="url(#aO)" stroke="none" stroke-width="1" />
<circle cx="270.8" cy="192.9" r="3.6" fill="url(#aO)" stroke="none" stroke-width="1" />
<circle cx="321.3" cy="189.6" r="3.6" fill="url(#aO)" stroke="none" stroke-width="1" />
<circle cx="216.9" cy="138.3" r="3.6" fill="url(#aO)" stroke="none" stroke-width="1" />
<circle cx="212.0" cy="144.6" r="3.6" fill="url(#aO)" stroke="none" stroke-width="1" />
<circle cx="207.1" cy="151.5" r="3.6" fill="url(#aO)" stroke="none" stroke-width="1" />
<circle cx="257.3" cy="148.0" r="3.6" fill="url(#aO)" stroke="none" stroke-width="1" />
<polygon points="100.1,239.5 147.0,243.0 158.7,286.6 114.2,283.5" fill="#2eaaad" stroke="none" stroke-width="1" />
<polygon points="147.0,243.0 158.7,286.6 129.4,263.1" fill="#23999c" stroke="none" stroke-width="1" opacity="0.8"/>
<polygon points="100.1,239.5 114.2,283.5 129.4,263.1" fill="#4cb8ba" stroke="none" stroke-width="1" opacity="0.55"/>
<polyline points="100.1,239.5 129.39999999999998,263.05 158.7,286.6" fill="none" stroke="#6ccbd0" stroke-width="0.8" opacity="0.6"/>
<polygon points="100.1,239.5 147,243 158.7,286.6 114.2,283.5" fill="none" stroke="#2c9ea4" stroke-width="0.8"/>
<polygon points="147.0,243.0 192.0,247.0 208.6,283.5 158.7,286.6" fill="#2eaaad" stroke="none" stroke-width="1" />
<polygon points="192.0,247.0 208.6,283.5 177.8,263.2" fill="#23999c" stroke="none" stroke-width="1" opacity="0.8"/>
<polygon points="147.0,243.0 158.7,286.6 177.8,263.2" fill="#4cb8ba" stroke="none" stroke-width="1" opacity="0.55"/>
<polyline points="147,243 177.8,263.25 208.6,283.5" fill="none" stroke="#6ccbd0" stroke-width="0.8" opacity="0.6"/>
<polygon points="147,243 192,247 208.6,283.5 158.7,286.6" fill="none" stroke="#2c9ea4" stroke-width="0.8"/>
<polygon points="192.0,247.0 244.3,235.8 258.4,280.1 208.6,283.5" fill="#2eaaad" stroke="none" stroke-width="1" />
<polygon points="244.3,235.8 258.4,280.1 225.2,263.6" fill="#23999c" stroke="none" stroke-width="1" opacity="0.8"/>
<polygon points="192.0,247.0 208.6,283.5 225.2,263.6" fill="#4cb8ba" stroke="none" stroke-width="1" opacity="0.55"/>
<polyline points="192,247 225.2,263.55 258.4,280.1" fill="none" stroke="#6ccbd0" stroke-width="0.8" opacity="0.6"/>
<polygon points="192,247 244.3,235.8 258.4,280.1 208.6,283.5" fill="none" stroke="#2c9ea4" stroke-width="0.8"/>
<polygon points="100.1,239.5 150.0,235.8 199.9,233.0 244.3,235.8 192.0,247.0 147.0,243.0" fill="#3cb2b4" stroke="none" stroke-width="1" />
<circle cx="118.6" cy="276.4" r="3" fill="#5a8080" stroke="none" stroke-width="1" opacity="0.85"/>
<circle cx="163.7" cy="279.6" r="3" fill="#5a8080" stroke="none" stroke-width="1" opacity="0.85"/>
<circle cx="213.5" cy="276.4" r="3" fill="#5a8080" stroke="none" stroke-width="1" opacity="0.85"/>
<circle cx="182.5" cy="255.4" r="7" fill="#4aa8c8" stroke="none" stroke-width="1" opacity="0.6"/>
<circle cx="132.0" cy="259.7" r="7.2" fill="url(#aCo)" stroke="none" stroke-width="1" />
<circle cx="176.7" cy="262.7" r="7.2" fill="url(#aCo)" stroke="none" stroke-width="1" />
<circle cx="226.6" cy="259.7" r="7.2" fill="url(#aCo)" stroke="none" stroke-width="1" />
<circle cx="100.1" cy="239.5" r="3.6" fill="url(#aO)" stroke="none" stroke-width="1" />
<circle cx="150.0" cy="235.8" r="3.6" fill="url(#aO)" stroke="none" stroke-width="1" />
<circle cx="199.9" cy="233.0" r="3.6" fill="url(#aO)" stroke="none" stroke-width="1" />
<circle cx="144.6" cy="242.8" r="3.6" fill="url(#aO)" stroke="none" stroke-width="1" />
<circle cx="194.5" cy="239.5" r="3.6" fill="url(#aO)" stroke="none" stroke-width="1" />
<circle cx="189.7" cy="246.7" r="3.6" fill="url(#aO)" stroke="none" stroke-width="1" />
<circle cx="244.3" cy="235.8" r="3.6" fill="url(#aO)" stroke="none" stroke-width="1" />
<circle cx="114.2" cy="283.5" r="3.6" fill="url(#aO)" stroke="none" stroke-width="1" />
<circle cx="158.7" cy="286.6" r="3.6" fill="url(#aO)" stroke="none" stroke-width="1" />
<circle cx="208.6" cy="283.5" r="3.6" fill="url(#aO)" stroke="none" stroke-width="1" />
<circle cx="258.4" cy="280.1" r="3.6" fill="url(#aO)" stroke="none" stroke-width="1" />
<circle cx="291.8" cy="131.1" r="7.2" fill="url(#aV)" stroke="none" stroke-width="1" />
<circle cx="269.2" cy="61.6" r="3.6" fill="#fff" stroke="#e05050" stroke-width="1" stroke-dasharray="2 1.2"/>
<circle cx="67.7" cy="148.0" r="3.6" fill="#fff" stroke="#e05050" stroke-width="1" stroke-dasharray="2 1.2"/>
<circle cx="239.6" cy="242.8" r="3.6" fill="#fff" stroke="#e05050" stroke-width="1" stroke-dasharray="2 1.2"/>
<path d="M274,62 C279,67 287,64 286,55" fill="none" stroke="#2b3a7a" stroke-width="2.6" stroke-linecap="round"/>
<path d="M274,62 C279,67 287,64 286,55" fill="none" stroke="#d04050" stroke-width="0.9" stroke-dasharray="2 2"/>
<polygon points="283.0,56.0 289.0,56.0 286.0,50.0" fill="#2b3a7a" stroke="none" stroke-width="1" />
<path d="M65,149.5 C60,156 53,153 55,146" fill="none" stroke="#2b3a7a" stroke-width="2.6" stroke-linecap="round"/>
<path d="M65,149.5 C60,156 53,153 55,146" fill="none" stroke="#d04050" stroke-width="0.9" stroke-dasharray="2 2"/>
<polygon points="52.0,147.0 58.0,147.0 55.0,142.0" fill="#2b3a7a" stroke="none" stroke-width="1" />
<path d="M236,242 C233,236 236,231 242,232" fill="none" stroke="#2b3a7a" stroke-width="2.6" stroke-linecap="round"/>
<path d="M236,242 C233,236 236,231 242,232" fill="none" stroke="#d04050" stroke-width="0.9" stroke-dasharray="2 2"/>
<polygon points="241.0,229.0 241.0,235.0 246.0,232.0" fill="#2b3a7a" stroke="none" stroke-width="1" />
<path d="M303,129 C322,131 332,155 306,165" fill="none" stroke="#253a80" stroke-width="5.5"/>
<path d="M303,129 C322,131 332,155 306,165" fill="none" stroke="#d83a40" stroke-width="2"/>
<polygon points="310.0,158.0 311.0,172.0 302.0,165.0" fill="#253a80" stroke="none" stroke-width="1" />
<line x1="297" y1="54.5" x2="357" y2="54.5" stroke="#231f20" stroke-width="2" />
<line x1="292" y1="98.5" x2="359" y2="98.5" stroke="#231f20" stroke-width="2" />
<line x1="327" y1="144" x2="358" y2="144" stroke="#231f20" stroke-width="2" />
<line x1="308" y1="62" x2="308" y2="91" stroke="#231f20" stroke-width="1.6" />
<polygon points="304.8,63.0 311.2,63.0 308.0,56.0" fill="#231f20" stroke="none" stroke-width="1" />
<polygon points="304.8,90.0 311.2,90.0 308.0,97.0" fill="#231f20" stroke="none" stroke-width="1" />
<line x1="336.7" y1="106" x2="336.7" y2="137" stroke="#231f20" stroke-width="1.6" />
<polygon points="333.5,107.0 339.9,107.0 336.7,100.0" fill="#231f20" stroke="none" stroke-width="1" />
<polygon points="333.5,136.0 339.9,136.0 336.7,143.0" fill="#231f20" stroke="none" stroke-width="1" />
<text x="316" y="77" font-size="14.8" fill="#e3171e" text-anchor="start" dominant-baseline="central" >2.6357 Å</text>
<text x="344.6" y="123" font-size="14.6" fill="#2a3d96" text-anchor="start" dominant-baseline="central" >2.0473 Å</text>
<text x="288.5" y="24.9" font-size="15" fill="#e3171e" text-anchor="middle" dominant-baseline="central" >Oxygen</text>
<text x="288.5" y="40.3" font-size="15" fill="#e3171e" text-anchor="middle" dominant-baseline="central" >vacancy</text>
<text x="65.5" y="117.5" font-size="15" fill="#e3171e" text-anchor="middle" dominant-baseline="central" >Oxygen</text>
<text x="65.5" y="133.3" font-size="15" fill="#e3171e" text-anchor="middle" dominant-baseline="central" >vacancy</text>
<text x="281" y="233.3" font-size="15" fill="#e3171e" text-anchor="middle" dominant-baseline="central" >Oxygen</text>
<text x="281" y="249.1" font-size="15" fill="#e3171e" text-anchor="middle" dominant-baseline="central" >vacancy</text>
<text x="292" y="117.3" font-size="15" fill="#ef9a22" text-anchor="middle" dominant-baseline="central" >V ion</text>
<circle cx="311.6" cy="263.9" r="8.5" fill="url(#aLi)" stroke="none" stroke-width="1" />
<circle cx="311.6" cy="281.8" r="7" fill="url(#aLegCo)" stroke="none" stroke-width="1" />
<circle cx="311.6" cy="300.0" r="9" fill="url(#aLeg)" stroke="none" stroke-width="1" />
<text x="327" y="266" font-size="15" fill="#231f20" text-anchor="start" dominant-baseline="central" >Li</text>
<text x="327" y="283.5" font-size="15" fill="#231f20" text-anchor="start" dominant-baseline="central" >Co</text>
<text x="327" y="303.9" font-size="15" fill="#231f20" text-anchor="start" dominant-baseline="central" >O</text>
</svg></body></html>
